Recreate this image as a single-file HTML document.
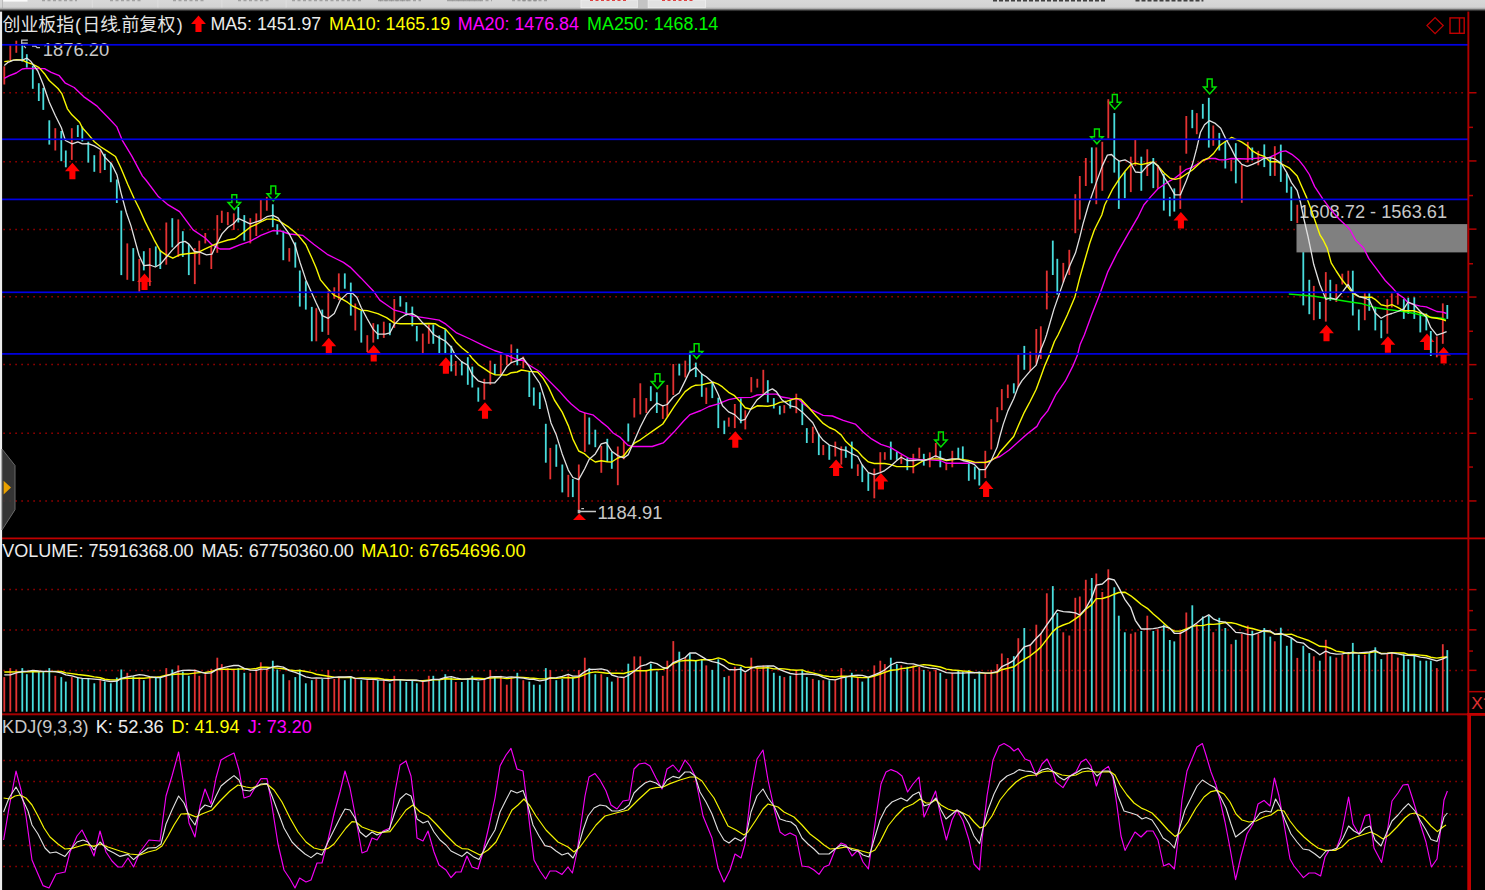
<!DOCTYPE html>
<html><head><meta charset="utf-8"><title>chart</title>
<style>html,body{margin:0;padding:0;background:#000;width:1485px;height:890px;overflow:hidden}</style>
</head><body>
<svg width="1485" height="890" viewBox="0 0 1485 890" style="display:block;position:absolute;left:0;top:0" font-family="Liberation Sans, sans-serif">
<defs><linearGradient id="tg" x1="0" y1="0" x2="0" y2="1"><stop offset="0" stop-color="#d8d8d8"/><stop offset="0.6" stop-color="#d3d3d3"/><stop offset="0.72" stop-color="#b8b8b8"/><stop offset="0.82" stop-color="#707070"/><stop offset="0.92" stop-color="#282828"/><stop offset="1" stop-color="#000"/></linearGradient><path id="ua" d="M0 -0.2 L7.4 8.3 L3.05 8.3 L3.05 16.3 L-3.05 16.3 L-3.05 8.3 L-7.4 8.3 Z"/><path id="da" d="M-2.4 0.6 L2.4 0.6 L2.4 8.4 L6.2 8.4 L0 15.4 L-6.2 8.4 L-2.4 8.4 Z"/></defs>
<rect width="1485" height="890" fill="#000"/>
<line x1="3.35" y1="92.8" x2="1464" y2="92.8" stroke="#a20000" stroke-width="1.5" stroke-dasharray="1.5 4.5"/>
<line x1="3.35" y1="161.8" x2="1464" y2="161.8" stroke="#a20000" stroke-width="1.5" stroke-dasharray="1.5 4.5"/>
<line x1="3.35" y1="229.4" x2="1464" y2="229.4" stroke="#a20000" stroke-width="1.5" stroke-dasharray="1.5 4.5"/>
<line x1="3.35" y1="296.8" x2="1464" y2="296.8" stroke="#a20000" stroke-width="1.5" stroke-dasharray="1.5 4.5"/>
<line x1="3.35" y1="364.4" x2="1464" y2="364.4" stroke="#a20000" stroke-width="1.5" stroke-dasharray="1.5 4.5"/>
<line x1="3.35" y1="433.3" x2="1464" y2="433.3" stroke="#a20000" stroke-width="1.5" stroke-dasharray="1.5 4.5"/>
<line x1="3.35" y1="500.9" x2="1464" y2="500.9" stroke="#a20000" stroke-width="1.5" stroke-dasharray="1.5 4.5"/>
<line x1="3.35" y1="589.4" x2="1464" y2="589.4" stroke="#a20000" stroke-width="1.5" stroke-dasharray="1.5 4.5"/>
<line x1="3.35" y1="629.9" x2="1464" y2="629.9" stroke="#a20000" stroke-width="1.5" stroke-dasharray="1.5 4.5"/>
<line x1="3.35" y1="670.4" x2="1464" y2="670.4" stroke="#a20000" stroke-width="1.5" stroke-dasharray="1.5 4.5"/>
<line x1="3.35" y1="760.5" x2="1464" y2="760.5" stroke="#a20000" stroke-width="1.5" stroke-dasharray="1.5 4.5"/>
<line x1="3.35" y1="781.5" x2="1464" y2="781.5" stroke="#a20000" stroke-width="1.5" stroke-dasharray="1.5 4.5"/>
<line x1="3.35" y1="814.5" x2="1464" y2="814.5" stroke="#a20000" stroke-width="1.5" stroke-dasharray="1.5 4.5"/>
<line x1="3.35" y1="845.5" x2="1464" y2="845.5" stroke="#a20000" stroke-width="1.5" stroke-dasharray="1.5 4.5"/>
<line x1="3.35" y1="866.5" x2="1464" y2="866.5" stroke="#a20000" stroke-width="1.5" stroke-dasharray="1.5 4.5"/>
<use href="#ua" x="72.4" y="162.9" fill="#ff0000"/>
<use href="#ua" x="144.5" y="273.7" fill="#ff0000"/>
<use href="#ua" x="328.8" y="337.9" fill="#ff0000"/>
<use href="#ua" x="373.7" y="345.3" fill="#ff0000"/>
<use href="#ua" x="445.9" y="357.5" fill="#ff0000"/>
<use href="#ua" x="485" y="402.4" fill="#ff0000"/>
<use href="#ua" x="735.3" y="431.4" fill="#ff0000"/>
<use href="#ua" x="836.1" y="459.8" fill="#ff0000"/>
<use href="#ua" x="880.9" y="473.3" fill="#ff0000"/>
<use href="#ua" x="986.1" y="480.8" fill="#ff0000"/>
<use href="#ua" x="1180.9" y="212.3" fill="#ff0000"/>
<use href="#ua" x="1326.5" y="325" fill="#ff0000"/>
<use href="#ua" x="1387.9" y="336.4" fill="#ff0000"/>
<use href="#ua" x="1427" y="333.7" fill="#ff0000"/>
<use href="#ua" x="1443.6" y="347.2" fill="#ff0000"/>
<use href="#ua" x="198.5" y="15.6" fill="#ff0000"/>
<use href="#da" x="234.3" y="194.2" fill="none" stroke="#00e000" stroke-width="1.5"/>
<use href="#da" x="273.3" y="185.4" fill="none" stroke="#00e000" stroke-width="1.5"/>
<use href="#da" x="657.5" y="373.2" fill="none" stroke="#00e000" stroke-width="1.5"/>
<use href="#da" x="696.6" y="343.2" fill="none" stroke="#00e000" stroke-width="1.5"/>
<use href="#da" x="940.9" y="431.5" fill="none" stroke="#00e000" stroke-width="1.5"/>
<use href="#da" x="1096.9" y="128.4" fill="none" stroke="#00e000" stroke-width="1.5"/>
<use href="#da" x="1114.8" y="93.8" fill="none" stroke="#00e000" stroke-width="1.5"/>
<use href="#da" x="1209.7" y="78.5" fill="none" stroke="#00e000" stroke-width="1.5"/>
<path d="M579.3 513.4 L586 519.9 L573 519.9 Z" fill="#ff0000"/>
<rect x="3.40" y="66.3" width="1.8" height="18.2" fill="#e43232"/>
<rect x="9.40" y="45.4" width="1.8" height="14.8" fill="#e43232"/>
<rect x="15.40" y="40.7" width="1.8" height="12.1" fill="#e43232"/>
<rect x="21.40" y="44.0" width="1.8" height="17.6" fill="#48dcdc"/>
<rect x="25.90" y="54.2" width="1.8" height="13.4" fill="#48dcdc"/>
<rect x="31.90" y="65.6" width="1.8" height="23.2" fill="#48dcdc"/>
<rect x="37.90" y="83.2" width="1.8" height="17.8" fill="#48dcdc"/>
<rect x="42.40" y="87.9" width="1.8" height="22.0" fill="#48dcdc"/>
<rect x="48.40" y="120.3" width="1.8" height="24.3" fill="#48dcdc"/>
<rect x="54.40" y="128.2" width="1.8" height="22.3" fill="#e43232"/>
<rect x="60.40" y="131.0" width="1.8" height="30.2" fill="#48dcdc"/>
<rect x="64.90" y="150.5" width="1.8" height="16.8" fill="#48dcdc"/>
<rect x="70.90" y="128.2" width="1.8" height="31.7" fill="#e43232"/>
<rect x="76.90" y="125.1" width="1.8" height="11.9" fill="#48dcdc"/>
<rect x="81.40" y="126.6" width="1.8" height="14.8" fill="#48dcdc"/>
<rect x="87.40" y="141.7" width="1.8" height="20.9" fill="#48dcdc"/>
<rect x="93.40" y="155.2" width="1.8" height="16.6" fill="#48dcdc"/>
<rect x="99.40" y="150.5" width="1.8" height="22.6" fill="#e43232"/>
<rect x="103.90" y="153.8" width="1.8" height="16.2" fill="#48dcdc"/>
<rect x="109.90" y="162.6" width="1.8" height="19.6" fill="#48dcdc"/>
<rect x="115.90" y="179.5" width="1.8" height="23.5" fill="#48dcdc"/>
<rect x="120.40" y="210.6" width="1.8" height="64.5" fill="#48dcdc"/>
<rect x="126.40" y="243.4" width="1.8" height="36.4" fill="#e43232"/>
<rect x="132.40" y="248.1" width="1.8" height="33.0" fill="#48dcdc"/>
<rect x="138.40" y="258.9" width="1.8" height="32.8" fill="#e43232"/>
<rect x="142.90" y="251.2" width="1.8" height="19.2" fill="#48dcdc"/>
<rect x="148.90" y="248.1" width="1.8" height="37.8" fill="#e43232"/>
<rect x="154.90" y="246.4" width="1.8" height="19.9" fill="#48dcdc"/>
<rect x="159.40" y="250.1" width="1.8" height="18.9" fill="#48dcdc"/>
<rect x="165.40" y="222.5" width="1.8" height="42.2" fill="#e43232"/>
<rect x="171.40" y="218.2" width="1.8" height="29.2" fill="#48dcdc"/>
<rect x="177.40" y="219.4" width="1.8" height="37.5" fill="#e43232"/>
<rect x="181.90" y="231.2" width="1.8" height="25.7" fill="#48dcdc"/>
<rect x="187.90" y="244.1" width="1.8" height="31.0" fill="#48dcdc"/>
<rect x="193.90" y="248.1" width="1.8" height="36.0" fill="#e43232"/>
<rect x="198.40" y="240.7" width="1.8" height="24.0" fill="#e43232"/>
<rect x="204.40" y="233.0" width="1.8" height="10.4" fill="#e43232"/>
<rect x="210.40" y="246.8" width="1.8" height="22.2" fill="#e43232"/>
<rect x="216.40" y="215.1" width="1.8" height="37.7" fill="#e43232"/>
<rect x="220.90" y="210.7" width="1.8" height="12.2" fill="#e43232"/>
<rect x="226.90" y="212.1" width="1.8" height="13.1" fill="#e43232"/>
<rect x="232.90" y="213.4" width="1.8" height="16.5" fill="#e43232"/>
<rect x="237.40" y="207.0" width="1.8" height="15.5" fill="#48dcdc"/>
<rect x="243.40" y="215.1" width="1.8" height="25.6" fill="#48dcdc"/>
<rect x="249.40" y="218.2" width="1.8" height="25.2" fill="#e43232"/>
<rect x="255.40" y="213.4" width="1.8" height="22.6" fill="#e43232"/>
<rect x="259.90" y="200.0" width="1.8" height="21.1" fill="#e43232"/>
<rect x="265.90" y="196.9" width="1.8" height="13.8" fill="#e43232"/>
<rect x="271.90" y="204.3" width="1.8" height="22.9" fill="#48dcdc"/>
<rect x="276.40" y="224.2" width="1.8" height="10.4" fill="#48dcdc"/>
<rect x="282.40" y="230.6" width="1.8" height="29.6" fill="#48dcdc"/>
<rect x="288.40" y="248.1" width="1.8" height="13.5" fill="#e43232"/>
<rect x="294.40" y="242.4" width="1.8" height="25.2" fill="#48dcdc"/>
<rect x="298.90" y="270.5" width="1.8" height="36.1" fill="#48dcdc"/>
<rect x="304.90" y="281.2" width="1.8" height="28.4" fill="#48dcdc"/>
<rect x="310.90" y="306.9" width="1.8" height="34.4" fill="#48dcdc"/>
<rect x="315.40" y="308.2" width="1.8" height="33.1" fill="#e43232"/>
<rect x="321.40" y="309.6" width="1.8" height="22.2" fill="#48dcdc"/>
<rect x="327.40" y="290.7" width="1.8" height="44.2" fill="#e43232"/>
<rect x="333.40" y="287.3" width="1.8" height="11.5" fill="#e43232"/>
<rect x="337.90" y="273.4" width="1.8" height="26.7" fill="#e43232"/>
<rect x="343.90" y="273.4" width="1.8" height="15.3" fill="#48dcdc"/>
<rect x="349.90" y="282.6" width="1.8" height="33.0" fill="#48dcdc"/>
<rect x="354.40" y="303.5" width="1.8" height="27.0" fill="#e43232"/>
<rect x="360.40" y="310.9" width="1.8" height="31.7" fill="#48dcdc"/>
<rect x="366.40" y="335.2" width="1.8" height="16.8" fill="#e43232"/>
<rect x="372.40" y="323.1" width="1.8" height="19.5" fill="#e43232"/>
<rect x="376.90" y="324.4" width="1.8" height="14.8" fill="#48dcdc"/>
<rect x="382.90" y="321.7" width="1.8" height="16.2" fill="#e43232"/>
<rect x="388.90" y="323.1" width="1.8" height="12.1" fill="#48dcdc"/>
<rect x="393.40" y="299.0" width="1.8" height="28.8" fill="#e43232"/>
<rect x="399.40" y="296.1" width="1.8" height="10.5" fill="#48dcdc"/>
<rect x="405.40" y="302.2" width="1.8" height="13.4" fill="#48dcdc"/>
<rect x="411.40" y="306.6" width="1.8" height="19.6" fill="#48dcdc"/>
<rect x="415.90" y="326.0" width="1.8" height="15.3" fill="#48dcdc"/>
<rect x="421.90" y="333.6" width="1.8" height="19.8" fill="#e43232"/>
<rect x="427.90" y="324.6" width="1.8" height="19.2" fill="#e43232"/>
<rect x="432.40" y="324.6" width="1.8" height="19.2" fill="#48dcdc"/>
<rect x="438.40" y="335.4" width="1.8" height="18.0" fill="#48dcdc"/>
<rect x="444.40" y="329.3" width="1.8" height="24.1" fill="#48dcdc"/>
<rect x="450.40" y="345.8" width="1.8" height="25.6" fill="#48dcdc"/>
<rect x="454.90" y="361.0" width="1.8" height="14.8" fill="#e43232"/>
<rect x="460.90" y="361.2" width="1.8" height="14.2" fill="#48dcdc"/>
<rect x="466.90" y="357.2" width="1.8" height="27.6" fill="#48dcdc"/>
<rect x="471.40" y="366.6" width="1.8" height="20.9" fill="#48dcdc"/>
<rect x="477.40" y="387.5" width="1.8" height="14.2" fill="#48dcdc"/>
<rect x="483.40" y="378.8" width="1.8" height="20.9" fill="#e43232"/>
<rect x="489.40" y="360.6" width="1.8" height="24.2" fill="#e43232"/>
<rect x="493.90" y="363.9" width="1.8" height="10.8" fill="#48dcdc"/>
<rect x="499.90" y="353.2" width="1.8" height="21.5" fill="#e43232"/>
<rect x="505.90" y="355.2" width="1.8" height="10.1" fill="#e43232"/>
<rect x="510.40" y="344.4" width="1.8" height="18.9" fill="#e43232"/>
<rect x="516.40" y="348.8" width="1.8" height="16.5" fill="#48dcdc"/>
<rect x="522.40" y="356.5" width="1.8" height="11.8" fill="#e43232"/>
<rect x="528.40" y="371.4" width="1.8" height="25.6" fill="#48dcdc"/>
<rect x="532.90" y="387.5" width="1.8" height="18.1" fill="#48dcdc"/>
<rect x="538.90" y="392.3" width="1.8" height="16.7" fill="#48dcdc"/>
<rect x="544.90" y="423.8" width="1.8" height="38.9" fill="#48dcdc"/>
<rect x="549.40" y="447.9" width="1.8" height="31.4" fill="#e43232"/>
<rect x="555.40" y="444.5" width="1.8" height="22.3" fill="#48dcdc"/>
<rect x="561.40" y="464.5" width="1.8" height="27.9" fill="#48dcdc"/>
<rect x="567.40" y="474.8" width="1.8" height="22.3" fill="#e43232"/>
<rect x="571.90" y="478.9" width="1.8" height="18.2" fill="#48dcdc"/>
<rect x="577.90" y="464.5" width="1.8" height="45.4" fill="#e43232"/>
<rect x="583.90" y="412.7" width="1.8" height="39.2" fill="#e43232"/>
<rect x="588.40" y="417.5" width="1.8" height="27.0" fill="#48dcdc"/>
<rect x="594.40" y="429.7" width="1.8" height="17.5" fill="#48dcdc"/>
<rect x="600.40" y="445.9" width="1.8" height="26.9" fill="#e43232"/>
<rect x="606.40" y="438.8" width="1.8" height="23.2" fill="#48dcdc"/>
<rect x="610.90" y="451.9" width="1.8" height="16.9" fill="#48dcdc"/>
<rect x="616.90" y="446.5" width="1.8" height="38.7" fill="#e43232"/>
<rect x="622.90" y="441.1" width="1.8" height="18.2" fill="#e43232"/>
<rect x="627.40" y="423.5" width="1.8" height="18.0" fill="#48dcdc"/>
<rect x="633.40" y="398.1" width="1.8" height="19.4" fill="#e43232"/>
<rect x="639.40" y="383.3" width="1.8" height="31.1" fill="#e43232"/>
<rect x="645.40" y="398.1" width="1.8" height="14.9" fill="#e43232"/>
<rect x="649.90" y="386.2" width="1.8" height="14.9" fill="#48dcdc"/>
<rect x="655.90" y="392.3" width="1.8" height="20.7" fill="#48dcdc"/>
<rect x="661.90" y="406.0" width="1.8" height="12.9" fill="#e43232"/>
<rect x="666.40" y="384.9" width="1.8" height="31.9" fill="#e43232"/>
<rect x="672.40" y="364.0" width="1.8" height="31.0" fill="#e43232"/>
<rect x="678.40" y="363.7" width="1.8" height="11.8" fill="#48dcdc"/>
<rect x="684.40" y="360.6" width="1.8" height="16.9" fill="#e43232"/>
<rect x="688.90" y="352.5" width="1.8" height="18.9" fill="#48dcdc"/>
<rect x="694.90" y="362.6" width="1.8" height="14.5" fill="#48dcdc"/>
<rect x="700.90" y="374.1" width="1.8" height="22.7" fill="#48dcdc"/>
<rect x="705.40" y="387.6" width="1.8" height="16.4" fill="#e43232"/>
<rect x="711.40" y="382.2" width="1.8" height="15.9" fill="#48dcdc"/>
<rect x="717.40" y="397.7" width="1.8" height="30.4" fill="#48dcdc"/>
<rect x="723.40" y="420.6" width="1.8" height="13.5" fill="#48dcdc"/>
<rect x="727.90" y="417.5" width="1.8" height="9.2" fill="#e43232"/>
<rect x="733.90" y="404.0" width="1.8" height="24.1" fill="#e43232"/>
<rect x="739.90" y="398.4" width="1.8" height="24.9" fill="#48dcdc"/>
<rect x="744.40" y="410.3" width="1.8" height="19.1" fill="#e43232"/>
<rect x="750.40" y="377.1" width="1.8" height="15.2" fill="#e43232"/>
<rect x="756.40" y="378.8" width="1.8" height="8.8" fill="#e43232"/>
<rect x="762.40" y="369.8" width="1.8" height="23.9" fill="#e43232"/>
<rect x="766.90" y="380.2" width="1.8" height="22.2" fill="#48dcdc"/>
<rect x="772.90" y="398.1" width="1.8" height="10.4" fill="#48dcdc"/>
<rect x="778.90" y="405.8" width="1.8" height="8.8" fill="#48dcdc"/>
<rect x="783.40" y="405.1" width="1.8" height="8.1" fill="#e43232"/>
<rect x="789.40" y="399.7" width="1.8" height="8.8" fill="#48dcdc"/>
<rect x="795.40" y="393.7" width="1.8" height="19.5" fill="#e43232"/>
<rect x="801.40" y="400.5" width="1.8" height="24.6" fill="#48dcdc"/>
<rect x="805.90" y="428.1" width="1.8" height="14.9" fill="#48dcdc"/>
<rect x="811.90" y="426.7" width="1.8" height="16.3" fill="#e43232"/>
<rect x="817.90" y="433.8" width="1.8" height="21.3" fill="#48dcdc"/>
<rect x="822.40" y="445.0" width="1.8" height="10.1" fill="#e43232"/>
<rect x="828.40" y="445.0" width="1.8" height="14.8" fill="#48dcdc"/>
<rect x="834.40" y="441.6" width="1.8" height="14.9" fill="#e43232"/>
<rect x="840.40" y="446.4" width="1.8" height="18.2" fill="#e43232"/>
<rect x="844.90" y="446.4" width="1.8" height="11.4" fill="#48dcdc"/>
<rect x="850.90" y="441.6" width="1.8" height="27.0" fill="#48dcdc"/>
<rect x="856.90" y="464.3" width="1.8" height="11.7" fill="#e43232"/>
<rect x="861.40" y="464.6" width="1.8" height="17.5" fill="#48dcdc"/>
<rect x="867.40" y="472.7" width="1.8" height="18.2" fill="#48dcdc"/>
<rect x="873.40" y="468.6" width="1.8" height="29.7" fill="#e43232"/>
<rect x="879.40" y="452.2" width="1.8" height="20.5" fill="#e43232"/>
<rect x="883.90" y="452.2" width="1.8" height="7.6" fill="#e43232"/>
<rect x="889.90" y="441.6" width="1.8" height="18.2" fill="#48dcdc"/>
<rect x="895.90" y="451.8" width="1.8" height="8.0" fill="#48dcdc"/>
<rect x="900.40" y="455.1" width="1.8" height="8.8" fill="#e43232"/>
<rect x="906.40" y="457.8" width="1.8" height="12.4" fill="#48dcdc"/>
<rect x="912.40" y="453.8" width="1.8" height="19.5" fill="#e43232"/>
<rect x="918.40" y="447.7" width="1.8" height="10.8" fill="#e43232"/>
<rect x="922.90" y="453.8" width="1.8" height="11.8" fill="#48dcdc"/>
<rect x="928.90" y="452.4" width="1.8" height="14.9" fill="#e43232"/>
<rect x="934.90" y="443.0" width="1.8" height="14.8" fill="#e43232"/>
<rect x="939.40" y="450.8" width="1.8" height="16.5" fill="#48dcdc"/>
<rect x="945.40" y="462.5" width="1.8" height="7.7" fill="#e43232"/>
<rect x="951.40" y="450.8" width="1.8" height="16.5" fill="#e43232"/>
<rect x="957.40" y="447.7" width="1.8" height="11.5" fill="#48dcdc"/>
<rect x="961.90" y="446.4" width="1.8" height="13.4" fill="#48dcdc"/>
<rect x="967.90" y="462.5" width="1.8" height="18.3" fill="#48dcdc"/>
<rect x="973.90" y="466.6" width="1.8" height="12.8" fill="#48dcdc"/>
<rect x="978.40" y="468.6" width="1.8" height="16.9" fill="#48dcdc"/>
<rect x="984.40" y="450.8" width="1.8" height="27.3" fill="#e43232"/>
<rect x="990.40" y="419.2" width="1.8" height="30.3" fill="#e43232"/>
<rect x="996.40" y="407.2" width="1.8" height="15.0" fill="#e43232"/>
<rect x="1000.90" y="389.1" width="1.8" height="21.1" fill="#e43232"/>
<rect x="1006.90" y="384.6" width="1.8" height="13.5" fill="#e43232"/>
<rect x="1012.90" y="383.3" width="1.8" height="10.1" fill="#48dcdc"/>
<rect x="1017.40" y="354.3" width="1.8" height="33.0" fill="#e43232"/>
<rect x="1023.40" y="345.9" width="1.8" height="23.9" fill="#48dcdc"/>
<rect x="1029.40" y="351.6" width="1.8" height="19.5" fill="#e43232"/>
<rect x="1035.40" y="329.0" width="1.8" height="34.7" fill="#e43232"/>
<rect x="1039.90" y="326.3" width="1.8" height="32.7" fill="#e43232"/>
<rect x="1045.90" y="270.6" width="1.8" height="38.8" fill="#e43232"/>
<rect x="1051.90" y="240.6" width="1.8" height="34.4" fill="#48dcdc"/>
<rect x="1056.40" y="258.8" width="1.8" height="35.8" fill="#48dcdc"/>
<rect x="1062.40" y="262.9" width="1.8" height="19.5" fill="#e43232"/>
<rect x="1068.40" y="249.8" width="1.8" height="25.2" fill="#e43232"/>
<rect x="1074.40" y="194.2" width="1.8" height="39.0" fill="#e43232"/>
<rect x="1078.90" y="176.0" width="1.8" height="43.5" fill="#e43232"/>
<rect x="1084.90" y="158.0" width="1.8" height="28.0" fill="#e43232"/>
<rect x="1090.90" y="147.4" width="1.8" height="35.9" fill="#48dcdc"/>
<rect x="1095.40" y="147.4" width="1.8" height="56.8" fill="#e43232"/>
<rect x="1101.40" y="141.8" width="1.8" height="49.0" fill="#e43232"/>
<rect x="1107.40" y="99.2" width="1.8" height="39.3" fill="#e43232"/>
<rect x="1113.40" y="113.1" width="1.8" height="59.5" fill="#48dcdc"/>
<rect x="1117.90" y="161.0" width="1.8" height="47.9" fill="#48dcdc"/>
<rect x="1123.90" y="171.5" width="1.8" height="26.7" fill="#48dcdc"/>
<rect x="1129.90" y="156.7" width="1.8" height="35.4" fill="#e43232"/>
<rect x="1134.40" y="139.8" width="1.8" height="26.0" fill="#e43232"/>
<rect x="1140.40" y="156.7" width="1.8" height="34.1" fill="#48dcdc"/>
<rect x="1146.40" y="149.3" width="1.8" height="26.7" fill="#e43232"/>
<rect x="1152.40" y="158.0" width="1.8" height="30.1" fill="#48dcdc"/>
<rect x="1156.90" y="165.1" width="1.8" height="23.6" fill="#e43232"/>
<rect x="1162.90" y="174.0" width="1.8" height="36.6" fill="#48dcdc"/>
<rect x="1168.90" y="197.2" width="1.8" height="19.1" fill="#48dcdc"/>
<rect x="1173.40" y="188.4" width="1.8" height="23.2" fill="#48dcdc"/>
<rect x="1179.40" y="165.6" width="1.8" height="43.3" fill="#e43232"/>
<rect x="1185.40" y="116.0" width="1.8" height="37.7" fill="#e43232"/>
<rect x="1191.40" y="109.9" width="1.8" height="18.3" fill="#48dcdc"/>
<rect x="1195.90" y="113.1" width="1.8" height="21.1" fill="#e43232"/>
<rect x="1201.90" y="103.9" width="1.8" height="14.8" fill="#48dcdc"/>
<rect x="1207.90" y="97.8" width="1.8" height="49.8" fill="#48dcdc"/>
<rect x="1212.40" y="125.5" width="1.8" height="20.3" fill="#e43232"/>
<rect x="1218.40" y="132.9" width="1.8" height="17.6" fill="#48dcdc"/>
<rect x="1224.40" y="141.8" width="1.8" height="26.7" fill="#48dcdc"/>
<rect x="1230.40" y="159.8" width="1.8" height="11.4" fill="#e43232"/>
<rect x="1234.90" y="143.2" width="1.8" height="40.1" fill="#48dcdc"/>
<rect x="1240.90" y="165.1" width="1.8" height="37.7" fill="#e43232"/>
<rect x="1246.90" y="141.9" width="1.8" height="20.5" fill="#e43232"/>
<rect x="1251.40" y="147.5" width="1.8" height="12.8" fill="#48dcdc"/>
<rect x="1257.40" y="150.9" width="1.8" height="14.4" fill="#e43232"/>
<rect x="1263.40" y="144.4" width="1.8" height="22.7" fill="#48dcdc"/>
<rect x="1269.40" y="158.3" width="1.8" height="17.6" fill="#48dcdc"/>
<rect x="1273.90" y="146.2" width="1.8" height="29.7" fill="#e43232"/>
<rect x="1279.90" y="144.6" width="1.8" height="37.3" fill="#48dcdc"/>
<rect x="1285.90" y="173.2" width="1.8" height="19.5" fill="#48dcdc"/>
<rect x="1290.40" y="186.6" width="1.8" height="34.4" fill="#48dcdc"/>
<rect x="1296.40" y="204.8" width="1.8" height="18.3" fill="#e43232"/>
<rect x="1302.40" y="240.0" width="1.8" height="65.4" fill="#48dcdc"/>
<rect x="1308.40" y="279.8" width="1.8" height="34.4" fill="#48dcdc"/>
<rect x="1312.90" y="285.9" width="1.8" height="34.3" fill="#e43232"/>
<rect x="1318.90" y="302.0" width="1.8" height="16.9" fill="#48dcdc"/>
<rect x="1324.90" y="272.1" width="1.8" height="49.5" fill="#e43232"/>
<rect x="1329.40" y="279.8" width="1.8" height="20.9" fill="#48dcdc"/>
<rect x="1335.40" y="284.2" width="1.8" height="17.8" fill="#e43232"/>
<rect x="1341.40" y="273.7" width="1.8" height="10.8" fill="#e43232"/>
<rect x="1347.40" y="270.7" width="1.8" height="15.8" fill="#e43232"/>
<rect x="1351.90" y="270.7" width="1.8" height="44.8" fill="#48dcdc"/>
<rect x="1357.90" y="309.5" width="1.8" height="20.9" fill="#48dcdc"/>
<rect x="1363.90" y="293.3" width="1.8" height="26.9" fill="#e43232"/>
<rect x="1368.40" y="293.3" width="1.8" height="17.5" fill="#48dcdc"/>
<rect x="1374.40" y="306.8" width="1.8" height="23.6" fill="#48dcdc"/>
<rect x="1380.40" y="320.2" width="1.8" height="18.0" fill="#48dcdc"/>
<rect x="1386.40" y="299.1" width="1.8" height="34.6" fill="#e43232"/>
<rect x="1390.90" y="293.3" width="1.8" height="14.1" fill="#e43232"/>
<rect x="1396.90" y="293.3" width="1.8" height="11.4" fill="#e43232"/>
<rect x="1402.90" y="299.1" width="1.8" height="19.8" fill="#48dcdc"/>
<rect x="1407.40" y="297.7" width="1.8" height="16.2" fill="#48dcdc"/>
<rect x="1413.40" y="297.3" width="1.8" height="21.6" fill="#48dcdc"/>
<rect x="1419.40" y="312.8" width="1.8" height="19.6" fill="#48dcdc"/>
<rect x="1425.40" y="313.5" width="1.8" height="16.9" fill="#48dcdc"/>
<rect x="1429.90" y="331.0" width="1.8" height="25.0" fill="#48dcdc"/>
<rect x="1435.90" y="336.4" width="1.8" height="20.9" fill="#e43232"/>
<rect x="1441.90" y="303.4" width="1.8" height="40.4" fill="#e43232"/>
<rect x="1446.40" y="305.0" width="1.8" height="13.9" fill="#48dcdc"/>
<rect x="1296.5" y="224.1" width="171" height="28.3" fill="#808080"/>
<rect x="3.40" y="677.1" width="1.8" height="34.6" fill="#e43232"/>
<rect x="9.40" y="668.1" width="1.8" height="43.6" fill="#e43232"/>
<rect x="15.40" y="669.5" width="1.8" height="42.2" fill="#e43232"/>
<rect x="21.40" y="668.1" width="1.8" height="43.6" fill="#48dcdc"/>
<rect x="25.90" y="674.2" width="1.8" height="37.5" fill="#48dcdc"/>
<rect x="31.90" y="671.5" width="1.8" height="40.2" fill="#48dcdc"/>
<rect x="37.90" y="671.5" width="1.8" height="40.2" fill="#48dcdc"/>
<rect x="42.40" y="671.5" width="1.8" height="40.2" fill="#48dcdc"/>
<rect x="48.40" y="668.1" width="1.8" height="43.6" fill="#48dcdc"/>
<rect x="54.40" y="675.8" width="1.8" height="35.9" fill="#e43232"/>
<rect x="60.40" y="677.1" width="1.8" height="34.6" fill="#48dcdc"/>
<rect x="64.90" y="681.6" width="1.8" height="30.1" fill="#48dcdc"/>
<rect x="70.90" y="677.1" width="1.8" height="34.6" fill="#e43232"/>
<rect x="76.90" y="677.1" width="1.8" height="34.6" fill="#48dcdc"/>
<rect x="81.40" y="678.9" width="1.8" height="32.8" fill="#48dcdc"/>
<rect x="87.40" y="678.9" width="1.8" height="32.8" fill="#48dcdc"/>
<rect x="93.40" y="683.3" width="1.8" height="28.4" fill="#48dcdc"/>
<rect x="99.40" y="680.2" width="1.8" height="31.5" fill="#e43232"/>
<rect x="103.90" y="681.6" width="1.8" height="30.1" fill="#48dcdc"/>
<rect x="109.90" y="683.3" width="1.8" height="28.4" fill="#48dcdc"/>
<rect x="115.90" y="677.5" width="1.8" height="34.2" fill="#48dcdc"/>
<rect x="120.40" y="669.5" width="1.8" height="42.2" fill="#48dcdc"/>
<rect x="126.40" y="672.8" width="1.8" height="38.9" fill="#e43232"/>
<rect x="132.40" y="676.2" width="1.8" height="35.5" fill="#48dcdc"/>
<rect x="138.40" y="677.5" width="1.8" height="34.2" fill="#e43232"/>
<rect x="142.90" y="680.2" width="1.8" height="31.5" fill="#48dcdc"/>
<rect x="148.90" y="676.9" width="1.8" height="34.8" fill="#e43232"/>
<rect x="154.90" y="676.9" width="1.8" height="34.8" fill="#48dcdc"/>
<rect x="159.40" y="676.9" width="1.8" height="34.8" fill="#48dcdc"/>
<rect x="165.40" y="668.1" width="1.8" height="43.6" fill="#e43232"/>
<rect x="171.40" y="669.5" width="1.8" height="42.2" fill="#48dcdc"/>
<rect x="177.40" y="665.4" width="1.8" height="46.3" fill="#e43232"/>
<rect x="181.90" y="671.5" width="1.8" height="40.2" fill="#48dcdc"/>
<rect x="187.90" y="675.8" width="1.8" height="35.9" fill="#48dcdc"/>
<rect x="193.90" y="669.5" width="1.8" height="42.2" fill="#e43232"/>
<rect x="198.40" y="675.8" width="1.8" height="35.9" fill="#e43232"/>
<rect x="204.40" y="674.2" width="1.8" height="37.5" fill="#e43232"/>
<rect x="210.40" y="668.8" width="1.8" height="42.9" fill="#e43232"/>
<rect x="216.40" y="657.7" width="1.8" height="54.0" fill="#e43232"/>
<rect x="220.90" y="664.1" width="1.8" height="47.6" fill="#e43232"/>
<rect x="226.90" y="668.1" width="1.8" height="43.6" fill="#e43232"/>
<rect x="232.90" y="668.8" width="1.8" height="42.9" fill="#e43232"/>
<rect x="237.40" y="668.1" width="1.8" height="43.6" fill="#48dcdc"/>
<rect x="243.40" y="672.8" width="1.8" height="38.9" fill="#48dcdc"/>
<rect x="249.40" y="672.8" width="1.8" height="38.9" fill="#e43232"/>
<rect x="255.40" y="669.5" width="1.8" height="42.2" fill="#e43232"/>
<rect x="259.90" y="662.3" width="1.8" height="49.4" fill="#e43232"/>
<rect x="265.90" y="668.8" width="1.8" height="42.9" fill="#e43232"/>
<rect x="271.90" y="660.7" width="1.8" height="51.0" fill="#48dcdc"/>
<rect x="276.40" y="669.5" width="1.8" height="42.2" fill="#48dcdc"/>
<rect x="282.40" y="674.2" width="1.8" height="37.5" fill="#48dcdc"/>
<rect x="288.40" y="680.2" width="1.8" height="31.5" fill="#e43232"/>
<rect x="294.40" y="677.1" width="1.8" height="34.6" fill="#48dcdc"/>
<rect x="298.90" y="669.5" width="1.8" height="42.2" fill="#48dcdc"/>
<rect x="304.90" y="683.3" width="1.8" height="28.4" fill="#48dcdc"/>
<rect x="310.90" y="680.2" width="1.8" height="31.5" fill="#48dcdc"/>
<rect x="315.40" y="678.9" width="1.8" height="32.8" fill="#e43232"/>
<rect x="321.40" y="678.9" width="1.8" height="32.8" fill="#48dcdc"/>
<rect x="327.40" y="670.1" width="1.8" height="41.6" fill="#e43232"/>
<rect x="333.40" y="678.9" width="1.8" height="32.8" fill="#e43232"/>
<rect x="337.90" y="677.1" width="1.8" height="34.6" fill="#e43232"/>
<rect x="343.90" y="680.2" width="1.8" height="31.5" fill="#48dcdc"/>
<rect x="349.90" y="677.1" width="1.8" height="34.6" fill="#48dcdc"/>
<rect x="354.40" y="678.9" width="1.8" height="32.8" fill="#e43232"/>
<rect x="360.40" y="680.2" width="1.8" height="31.5" fill="#48dcdc"/>
<rect x="366.40" y="680.2" width="1.8" height="31.5" fill="#e43232"/>
<rect x="372.40" y="680.2" width="1.8" height="31.5" fill="#e43232"/>
<rect x="376.90" y="680.2" width="1.8" height="31.5" fill="#48dcdc"/>
<rect x="382.90" y="680.2" width="1.8" height="31.5" fill="#e43232"/>
<rect x="388.90" y="683.3" width="1.8" height="28.4" fill="#48dcdc"/>
<rect x="393.40" y="675.8" width="1.8" height="35.9" fill="#e43232"/>
<rect x="399.40" y="679.6" width="1.8" height="32.1" fill="#48dcdc"/>
<rect x="405.40" y="682.0" width="1.8" height="29.7" fill="#48dcdc"/>
<rect x="411.40" y="680.2" width="1.8" height="31.5" fill="#48dcdc"/>
<rect x="415.90" y="683.3" width="1.8" height="28.4" fill="#48dcdc"/>
<rect x="421.90" y="682.0" width="1.8" height="29.7" fill="#e43232"/>
<rect x="427.90" y="675.8" width="1.8" height="35.9" fill="#e43232"/>
<rect x="432.40" y="675.8" width="1.8" height="35.9" fill="#48dcdc"/>
<rect x="438.40" y="679.6" width="1.8" height="32.1" fill="#48dcdc"/>
<rect x="444.40" y="674.2" width="1.8" height="37.5" fill="#48dcdc"/>
<rect x="450.40" y="677.5" width="1.8" height="34.2" fill="#48dcdc"/>
<rect x="454.90" y="682.0" width="1.8" height="29.7" fill="#e43232"/>
<rect x="460.90" y="682.0" width="1.8" height="29.7" fill="#48dcdc"/>
<rect x="466.90" y="678.2" width="1.8" height="33.5" fill="#48dcdc"/>
<rect x="471.40" y="675.8" width="1.8" height="35.9" fill="#48dcdc"/>
<rect x="477.40" y="681.6" width="1.8" height="30.1" fill="#48dcdc"/>
<rect x="483.40" y="678.9" width="1.8" height="32.8" fill="#e43232"/>
<rect x="489.40" y="670.1" width="1.8" height="41.6" fill="#e43232"/>
<rect x="493.90" y="676.9" width="1.8" height="34.8" fill="#48dcdc"/>
<rect x="499.90" y="675.8" width="1.8" height="35.9" fill="#e43232"/>
<rect x="505.90" y="684.7" width="1.8" height="27.0" fill="#e43232"/>
<rect x="510.40" y="677.1" width="1.8" height="34.6" fill="#e43232"/>
<rect x="516.40" y="672.8" width="1.8" height="38.9" fill="#48dcdc"/>
<rect x="522.40" y="680.2" width="1.8" height="31.5" fill="#e43232"/>
<rect x="528.40" y="681.6" width="1.8" height="30.1" fill="#48dcdc"/>
<rect x="532.90" y="684.7" width="1.8" height="27.0" fill="#48dcdc"/>
<rect x="538.90" y="684.7" width="1.8" height="27.0" fill="#48dcdc"/>
<rect x="544.90" y="668.1" width="1.8" height="43.6" fill="#48dcdc"/>
<rect x="549.40" y="670.1" width="1.8" height="41.6" fill="#e43232"/>
<rect x="555.40" y="680.2" width="1.8" height="31.5" fill="#48dcdc"/>
<rect x="561.40" y="678.9" width="1.8" height="32.8" fill="#48dcdc"/>
<rect x="567.40" y="674.2" width="1.8" height="37.5" fill="#e43232"/>
<rect x="571.90" y="677.1" width="1.8" height="34.6" fill="#48dcdc"/>
<rect x="577.90" y="670.1" width="1.8" height="41.6" fill="#e43232"/>
<rect x="583.90" y="657.7" width="1.8" height="54.0" fill="#e43232"/>
<rect x="588.40" y="668.1" width="1.8" height="43.6" fill="#48dcdc"/>
<rect x="594.40" y="674.2" width="1.8" height="37.5" fill="#48dcdc"/>
<rect x="600.40" y="674.2" width="1.8" height="37.5" fill="#e43232"/>
<rect x="606.40" y="677.1" width="1.8" height="34.6" fill="#48dcdc"/>
<rect x="610.90" y="681.6" width="1.8" height="30.1" fill="#48dcdc"/>
<rect x="616.90" y="677.5" width="1.8" height="34.2" fill="#e43232"/>
<rect x="622.90" y="676.9" width="1.8" height="34.8" fill="#e43232"/>
<rect x="627.40" y="663.7" width="1.8" height="48.0" fill="#48dcdc"/>
<rect x="633.40" y="656.4" width="1.8" height="55.3" fill="#e43232"/>
<rect x="639.40" y="656.4" width="1.8" height="55.3" fill="#e43232"/>
<rect x="645.40" y="670.1" width="1.8" height="41.6" fill="#e43232"/>
<rect x="649.90" y="663.7" width="1.8" height="48.0" fill="#48dcdc"/>
<rect x="655.90" y="671.5" width="1.8" height="40.2" fill="#48dcdc"/>
<rect x="661.90" y="675.8" width="1.8" height="35.9" fill="#e43232"/>
<rect x="666.40" y="660.7" width="1.8" height="51.0" fill="#e43232"/>
<rect x="672.40" y="641.1" width="1.8" height="70.6" fill="#e43232"/>
<rect x="678.40" y="651.7" width="1.8" height="60.0" fill="#48dcdc"/>
<rect x="684.40" y="658.0" width="1.8" height="53.7" fill="#e43232"/>
<rect x="688.90" y="653.3" width="1.8" height="58.4" fill="#48dcdc"/>
<rect x="694.90" y="660.7" width="1.8" height="51.0" fill="#48dcdc"/>
<rect x="700.90" y="659.3" width="1.8" height="52.4" fill="#48dcdc"/>
<rect x="705.40" y="665.4" width="1.8" height="46.3" fill="#e43232"/>
<rect x="711.40" y="669.9" width="1.8" height="41.8" fill="#48dcdc"/>
<rect x="717.40" y="659.3" width="1.8" height="52.4" fill="#48dcdc"/>
<rect x="723.40" y="677.1" width="1.8" height="34.6" fill="#48dcdc"/>
<rect x="727.90" y="675.8" width="1.8" height="35.9" fill="#e43232"/>
<rect x="733.90" y="666.8" width="1.8" height="44.9" fill="#e43232"/>
<rect x="739.90" y="666.8" width="1.8" height="44.9" fill="#48dcdc"/>
<rect x="744.40" y="672.8" width="1.8" height="38.9" fill="#e43232"/>
<rect x="750.40" y="657.7" width="1.8" height="54.0" fill="#e43232"/>
<rect x="756.40" y="668.1" width="1.8" height="43.6" fill="#e43232"/>
<rect x="762.40" y="665.4" width="1.8" height="46.3" fill="#e43232"/>
<rect x="766.90" y="666.1" width="1.8" height="45.6" fill="#48dcdc"/>
<rect x="772.90" y="672.8" width="1.8" height="38.9" fill="#48dcdc"/>
<rect x="778.90" y="675.8" width="1.8" height="35.9" fill="#48dcdc"/>
<rect x="783.40" y="677.1" width="1.8" height="34.6" fill="#e43232"/>
<rect x="789.40" y="675.8" width="1.8" height="35.9" fill="#48dcdc"/>
<rect x="795.40" y="670.1" width="1.8" height="41.6" fill="#e43232"/>
<rect x="801.40" y="670.1" width="1.8" height="41.6" fill="#48dcdc"/>
<rect x="805.90" y="677.1" width="1.8" height="34.6" fill="#48dcdc"/>
<rect x="811.90" y="678.9" width="1.8" height="32.8" fill="#e43232"/>
<rect x="817.90" y="680.2" width="1.8" height="31.5" fill="#48dcdc"/>
<rect x="822.40" y="680.2" width="1.8" height="31.5" fill="#e43232"/>
<rect x="828.40" y="680.2" width="1.8" height="31.5" fill="#48dcdc"/>
<rect x="834.40" y="680.2" width="1.8" height="31.5" fill="#e43232"/>
<rect x="840.40" y="668.1" width="1.8" height="43.6" fill="#e43232"/>
<rect x="844.90" y="677.1" width="1.8" height="34.6" fill="#48dcdc"/>
<rect x="850.90" y="672.8" width="1.8" height="38.9" fill="#48dcdc"/>
<rect x="856.90" y="677.1" width="1.8" height="34.6" fill="#e43232"/>
<rect x="861.40" y="681.6" width="1.8" height="30.1" fill="#48dcdc"/>
<rect x="867.40" y="677.1" width="1.8" height="34.6" fill="#48dcdc"/>
<rect x="873.40" y="665.4" width="1.8" height="46.3" fill="#e43232"/>
<rect x="879.40" y="660.7" width="1.8" height="51.0" fill="#e43232"/>
<rect x="883.90" y="664.1" width="1.8" height="47.6" fill="#e43232"/>
<rect x="889.90" y="657.7" width="1.8" height="54.0" fill="#48dcdc"/>
<rect x="895.90" y="664.1" width="1.8" height="47.6" fill="#48dcdc"/>
<rect x="900.40" y="665.4" width="1.8" height="46.3" fill="#e43232"/>
<rect x="906.40" y="666.8" width="1.8" height="44.9" fill="#48dcdc"/>
<rect x="912.40" y="665.4" width="1.8" height="46.3" fill="#e43232"/>
<rect x="918.40" y="666.8" width="1.8" height="44.9" fill="#e43232"/>
<rect x="922.90" y="669.9" width="1.8" height="41.8" fill="#48dcdc"/>
<rect x="928.90" y="671.5" width="1.8" height="40.2" fill="#e43232"/>
<rect x="934.90" y="669.9" width="1.8" height="41.8" fill="#e43232"/>
<rect x="939.40" y="672.8" width="1.8" height="38.9" fill="#48dcdc"/>
<rect x="945.40" y="678.9" width="1.8" height="32.8" fill="#e43232"/>
<rect x="951.40" y="672.8" width="1.8" height="38.9" fill="#e43232"/>
<rect x="957.40" y="670.1" width="1.8" height="41.6" fill="#48dcdc"/>
<rect x="961.90" y="671.5" width="1.8" height="40.2" fill="#48dcdc"/>
<rect x="967.90" y="670.1" width="1.8" height="41.6" fill="#48dcdc"/>
<rect x="973.90" y="678.9" width="1.8" height="32.8" fill="#48dcdc"/>
<rect x="978.40" y="671.5" width="1.8" height="40.2" fill="#48dcdc"/>
<rect x="984.40" y="674.2" width="1.8" height="37.5" fill="#e43232"/>
<rect x="990.40" y="669.9" width="1.8" height="41.8" fill="#e43232"/>
<rect x="996.40" y="664.1" width="1.8" height="47.6" fill="#e43232"/>
<rect x="1000.90" y="653.5" width="1.8" height="58.2" fill="#e43232"/>
<rect x="1006.90" y="658.0" width="1.8" height="53.7" fill="#e43232"/>
<rect x="1012.90" y="656.2" width="1.8" height="55.5" fill="#48dcdc"/>
<rect x="1017.40" y="638.2" width="1.8" height="73.5" fill="#e43232"/>
<rect x="1023.40" y="628.0" width="1.8" height="83.7" fill="#48dcdc"/>
<rect x="1029.40" y="644.5" width="1.8" height="67.2" fill="#e43232"/>
<rect x="1035.40" y="624.7" width="1.8" height="87.0" fill="#e43232"/>
<rect x="1039.90" y="633.7" width="1.8" height="78.0" fill="#e43232"/>
<rect x="1045.90" y="593.3" width="1.8" height="118.4" fill="#e43232"/>
<rect x="1051.90" y="586.1" width="1.8" height="125.6" fill="#48dcdc"/>
<rect x="1056.40" y="613.0" width="1.8" height="98.7" fill="#48dcdc"/>
<rect x="1062.40" y="632.3" width="1.8" height="79.4" fill="#e43232"/>
<rect x="1068.40" y="635.5" width="1.8" height="76.2" fill="#e43232"/>
<rect x="1074.40" y="597.8" width="1.8" height="113.9" fill="#e43232"/>
<rect x="1078.90" y="596.5" width="1.8" height="115.2" fill="#e43232"/>
<rect x="1084.90" y="579.8" width="1.8" height="131.9" fill="#e43232"/>
<rect x="1090.90" y="578.0" width="1.8" height="133.7" fill="#48dcdc"/>
<rect x="1095.40" y="573.5" width="1.8" height="138.2" fill="#e43232"/>
<rect x="1101.40" y="592.0" width="1.8" height="119.7" fill="#e43232"/>
<rect x="1107.40" y="569.3" width="1.8" height="142.4" fill="#e43232"/>
<rect x="1113.40" y="587.3" width="1.8" height="124.4" fill="#48dcdc"/>
<rect x="1117.90" y="615.7" width="1.8" height="96.0" fill="#48dcdc"/>
<rect x="1123.90" y="632.3" width="1.8" height="79.4" fill="#48dcdc"/>
<rect x="1129.90" y="633.7" width="1.8" height="78.0" fill="#e43232"/>
<rect x="1134.40" y="632.3" width="1.8" height="79.4" fill="#e43232"/>
<rect x="1140.40" y="631.0" width="1.8" height="80.7" fill="#48dcdc"/>
<rect x="1146.40" y="615.7" width="1.8" height="96.0" fill="#e43232"/>
<rect x="1152.40" y="631.0" width="1.8" height="80.7" fill="#48dcdc"/>
<rect x="1156.90" y="629.2" width="1.8" height="82.5" fill="#e43232"/>
<rect x="1162.90" y="624.7" width="1.8" height="87.0" fill="#48dcdc"/>
<rect x="1168.90" y="640.0" width="1.8" height="71.7" fill="#48dcdc"/>
<rect x="1173.40" y="641.4" width="1.8" height="70.3" fill="#48dcdc"/>
<rect x="1179.40" y="631.9" width="1.8" height="79.8" fill="#e43232"/>
<rect x="1185.40" y="612.5" width="1.8" height="99.2" fill="#e43232"/>
<rect x="1191.40" y="605.3" width="1.8" height="106.4" fill="#48dcdc"/>
<rect x="1195.90" y="624.0" width="1.8" height="87.7" fill="#e43232"/>
<rect x="1201.90" y="616.5" width="1.8" height="95.2" fill="#48dcdc"/>
<rect x="1207.90" y="615.9" width="1.8" height="95.8" fill="#48dcdc"/>
<rect x="1212.40" y="632.2" width="1.8" height="79.5" fill="#e43232"/>
<rect x="1218.40" y="617.8" width="1.8" height="93.9" fill="#48dcdc"/>
<rect x="1224.40" y="628.0" width="1.8" height="83.7" fill="#48dcdc"/>
<rect x="1230.40" y="644.2" width="1.8" height="67.5" fill="#e43232"/>
<rect x="1234.90" y="639.8" width="1.8" height="71.9" fill="#48dcdc"/>
<rect x="1240.90" y="634.0" width="1.8" height="77.7" fill="#e43232"/>
<rect x="1246.90" y="625.6" width="1.8" height="86.1" fill="#e43232"/>
<rect x="1251.40" y="630.8" width="1.8" height="80.9" fill="#48dcdc"/>
<rect x="1257.40" y="634.0" width="1.8" height="77.7" fill="#e43232"/>
<rect x="1263.40" y="628.0" width="1.8" height="83.7" fill="#48dcdc"/>
<rect x="1269.40" y="636.6" width="1.8" height="75.1" fill="#48dcdc"/>
<rect x="1273.90" y="641.3" width="1.8" height="70.4" fill="#e43232"/>
<rect x="1279.90" y="627.7" width="1.8" height="84.0" fill="#48dcdc"/>
<rect x="1285.90" y="645.8" width="1.8" height="65.9" fill="#48dcdc"/>
<rect x="1290.40" y="638.2" width="1.8" height="73.5" fill="#48dcdc"/>
<rect x="1296.40" y="657.9" width="1.8" height="53.8" fill="#e43232"/>
<rect x="1302.40" y="645.8" width="1.8" height="65.9" fill="#48dcdc"/>
<rect x="1308.40" y="653.1" width="1.8" height="58.6" fill="#48dcdc"/>
<rect x="1312.90" y="656.3" width="1.8" height="55.4" fill="#e43232"/>
<rect x="1318.90" y="660.7" width="1.8" height="51.0" fill="#48dcdc"/>
<rect x="1324.90" y="639.8" width="1.8" height="71.9" fill="#e43232"/>
<rect x="1329.40" y="656.3" width="1.8" height="55.4" fill="#48dcdc"/>
<rect x="1335.40" y="657.6" width="1.8" height="54.1" fill="#e43232"/>
<rect x="1341.40" y="654.7" width="1.8" height="57.0" fill="#e43232"/>
<rect x="1347.40" y="654.7" width="1.8" height="57.0" fill="#e43232"/>
<rect x="1351.90" y="642.9" width="1.8" height="68.8" fill="#48dcdc"/>
<rect x="1357.90" y="654.7" width="1.8" height="57.0" fill="#48dcdc"/>
<rect x="1363.90" y="654.7" width="1.8" height="57.0" fill="#e43232"/>
<rect x="1368.40" y="653.1" width="1.8" height="58.6" fill="#48dcdc"/>
<rect x="1374.40" y="647.3" width="1.8" height="64.4" fill="#48dcdc"/>
<rect x="1380.40" y="659.1" width="1.8" height="52.6" fill="#48dcdc"/>
<rect x="1386.40" y="653.1" width="1.8" height="58.6" fill="#e43232"/>
<rect x="1390.90" y="652.0" width="1.8" height="59.7" fill="#e43232"/>
<rect x="1396.90" y="657.6" width="1.8" height="54.1" fill="#e43232"/>
<rect x="1402.90" y="654.3" width="1.8" height="57.4" fill="#48dcdc"/>
<rect x="1407.40" y="659.3" width="1.8" height="52.4" fill="#48dcdc"/>
<rect x="1413.40" y="654.3" width="1.8" height="57.4" fill="#48dcdc"/>
<rect x="1419.40" y="660.7" width="1.8" height="51.0" fill="#48dcdc"/>
<rect x="1425.40" y="660.7" width="1.8" height="51.0" fill="#48dcdc"/>
<rect x="1429.90" y="660.7" width="1.8" height="51.0" fill="#48dcdc"/>
<rect x="1435.90" y="668.1" width="1.8" height="43.6" fill="#e43232"/>
<rect x="1441.90" y="644.2" width="1.8" height="67.5" fill="#e43232"/>
<rect x="1446.40" y="650.1" width="1.8" height="61.6" fill="#48dcdc"/>
<polyline points="4.3,672.0 10.3,672.0 16.3,671.9 22.3,671.9 26.8,671.8 32.8,671.8 38.8,671.7 43.3,671.6 49.3,671.6 55.3,671.5 61.3,671.5 65.8,672.9 71.8,673.6 77.8,674.5 82.3,675.0 88.3,675.8 94.3,676.9 100.3,677.8 104.8,679.2 110.8,679.9 116.8,680.0 121.3,678.7 127.3,678.3 133.3,678.2 139.3,678.1 143.8,678.2 149.8,677.6 155.8,677.2 160.3,676.8 166.3,675.2 172.3,674.5 178.3,674.0 182.8,673.9 188.8,673.9 194.8,673.1 199.3,672.6 205.3,672.4 211.3,671.5 217.3,669.6 221.8,669.2 227.8,669.1 233.8,669.4 238.3,669.1 244.3,668.8 250.3,669.1 256.3,668.5 260.8,667.3 266.8,667.3 272.8,667.6 277.3,668.1 283.3,668.8 289.3,669.9 295.3,670.8 299.8,670.5 305.8,671.5 311.8,672.6 316.3,674.2 322.3,675.2 328.3,676.2 334.3,677.1 338.8,677.4 344.8,677.4 350.8,677.4 355.3,678.4 361.3,678.0 367.3,678.0 373.3,678.2 377.8,678.3 383.8,679.3 389.8,679.8 394.3,679.6 400.3,679.6 406.3,680.1 412.3,680.2 416.8,680.5 422.8,680.7 428.8,680.2 433.3,679.8 439.3,679.7 445.3,678.8 451.3,679.0 455.8,679.2 461.8,679.2 467.8,679.0 472.3,678.3 478.3,678.2 484.3,678.6 490.3,678.0 494.8,677.7 500.8,677.9 506.8,678.6 511.3,678.1 517.3,677.2 523.3,677.4 529.3,678.0 533.8,678.3 539.8,678.9 545.8,678.7 550.3,678.0 556.3,678.4 562.3,677.8 568.3,677.5 572.8,678.0 578.8,677.0 584.8,674.6 589.3,672.9 595.3,671.9 601.3,672.5 607.3,673.2 611.8,673.3 617.8,673.2 623.8,673.5 628.3,672.1 634.3,670.7 640.3,670.6 646.3,670.8 650.8,669.8 656.8,669.5 662.8,669.4 667.3,667.3 673.3,663.6 679.3,661.1 685.3,660.5 689.8,660.2 695.8,660.7 701.8,659.6 706.3,659.8 712.3,659.6 718.3,657.9 724.3,659.6 728.8,663.0 734.8,664.6 740.8,665.4 745.3,667.4 751.3,667.1 757.3,668.0 763.3,668.0 767.8,667.6 773.8,668.9 779.8,668.8 784.3,668.9 790.3,669.8 796.3,670.2 802.3,669.9 806.8,671.8 812.8,672.9 818.8,674.4 823.3,675.8 829.3,676.5 835.3,677.0 841.3,676.1 845.8,676.2 851.8,676.5 857.8,677.2 862.3,677.6 868.3,677.5 874.3,676.0 880.3,674.0 884.8,672.4 890.8,670.2 896.8,669.8 901.3,668.6 907.3,668.0 913.3,666.8 919.3,665.4 923.8,664.6 929.8,665.2 935.8,666.2 940.3,667.0 946.3,669.1 952.3,670.0 958.3,670.5 962.8,671.0 968.8,671.4 974.8,672.6 979.3,672.8 985.3,673.1 991.3,673.1 997.3,672.2 1001.8,669.7 1007.8,668.2 1013.8,666.8 1018.3,663.5 1024.3,659.3 1030.3,655.8 1036.3,651.1 1040.8,647.1 1046.8,639.4 1052.8,631.6 1057.3,627.6 1063.3,625.0 1069.3,622.9 1075.3,618.9 1079.8,615.7 1085.8,609.3 1091.8,604.6 1096.3,598.6 1102.3,598.5 1108.3,596.8 1114.3,594.2 1118.8,592.5 1124.8,592.2 1130.8,595.8 1135.3,599.4 1141.3,604.5 1147.3,608.3 1153.3,614.0 1157.8,617.8 1163.8,623.3 1169.8,628.6 1174.3,631.1 1180.3,631.1 1186.3,629.0 1192.3,626.3 1196.8,625.6 1202.8,625.6 1208.8,624.1 1213.3,624.4 1219.3,623.8 1225.3,622.5 1231.3,622.8 1235.8,623.6 1241.8,625.8 1247.8,627.8 1252.3,628.5 1258.3,630.2 1264.3,631.4 1270.3,631.9 1274.8,634.2 1280.8,634.2 1286.8,634.4 1291.3,634.2 1297.3,636.6 1303.3,638.6 1309.3,640.8 1313.8,643.1 1319.8,646.3 1325.8,646.7 1330.3,648.2 1336.3,651.1 1342.3,652.0 1348.3,653.7 1352.8,652.2 1358.8,653.1 1364.8,653.2 1369.3,652.9 1375.3,651.6 1381.3,653.5 1387.3,653.2 1391.8,652.6 1397.8,652.9 1403.8,652.9 1408.3,654.5 1414.3,654.5 1420.3,655.1 1426.3,655.8 1430.8,657.2 1436.8,658.1 1442.8,657.2 1447.3,657.0" fill="none" stroke="#f8f800" stroke-width="1.45" stroke-linejoin="round" />
<polyline points="4.3,674.8 10.3,674.8 16.3,672.8 22.3,671.5 26.8,671.4 32.8,670.3 38.8,671.0 43.3,671.4 49.3,671.4 55.3,671.7 61.3,672.8 65.8,674.8 71.8,675.9 77.8,677.7 82.3,678.4 88.3,678.7 94.3,679.1 100.3,679.7 104.8,680.6 110.8,681.5 116.8,681.2 121.3,678.4 127.3,676.9 133.3,675.9 139.3,674.7 143.8,675.2 149.8,676.7 155.8,677.5 160.3,677.7 166.3,675.8 172.3,673.7 178.3,671.4 182.8,670.3 188.8,670.1 194.8,670.3 199.3,671.6 205.3,673.4 211.3,672.8 217.3,669.2 221.8,668.1 227.8,666.6 233.8,665.5 238.3,665.4 244.3,668.4 250.3,670.1 256.3,670.4 260.8,669.1 266.8,669.2 272.8,666.8 277.3,666.2 283.3,667.1 289.3,670.7 295.3,672.3 299.8,674.1 305.8,676.9 311.8,678.1 316.3,677.8 322.3,678.2 328.3,678.3 334.3,677.4 338.8,676.8 344.8,677.0 350.8,676.7 355.3,678.4 361.3,678.7 367.3,679.3 373.3,679.3 377.8,679.9 383.8,680.2 389.8,680.8 394.3,679.9 400.3,679.8 406.3,680.2 412.3,680.2 416.8,680.2 422.8,681.4 428.8,680.7 433.3,679.4 439.3,679.3 445.3,677.5 451.3,676.6 455.8,677.8 461.8,679.1 467.8,678.8 472.3,679.1 478.3,679.9 484.3,679.3 490.3,676.9 494.8,676.7 500.8,676.7 506.8,677.3 511.3,676.9 517.3,677.5 523.3,678.1 529.3,679.3 533.8,679.3 539.8,680.8 545.8,679.9 550.3,677.8 556.3,677.6 562.3,676.4 568.3,674.3 572.8,676.1 578.8,676.1 584.8,671.6 589.3,669.4 595.3,669.4 601.3,668.9 607.3,670.3 611.8,675.0 617.8,676.9 623.8,677.5 628.3,675.4 634.3,671.2 640.3,666.2 646.3,664.7 650.8,662.1 656.8,663.6 662.8,667.5 667.3,668.4 673.3,662.6 679.3,660.2 685.3,657.5 689.8,653.0 695.8,653.0 701.8,656.6 706.3,659.3 712.3,661.7 718.3,662.9 724.3,666.2 728.8,669.5 734.8,669.8 740.8,669.2 745.3,671.9 751.3,668.0 757.3,666.4 763.3,666.2 767.8,666.0 773.8,666.0 779.8,669.6 784.3,671.4 790.3,673.5 796.3,674.3 802.3,673.8 806.8,674.0 812.8,674.4 818.8,675.3 823.3,677.3 829.3,679.3 835.3,679.9 841.3,677.8 845.8,677.2 851.8,675.7 857.8,675.1 862.3,675.3 868.3,677.1 874.3,674.8 880.3,672.4 884.8,669.8 890.8,665.0 896.8,662.4 901.3,662.4 907.3,663.6 913.3,663.9 919.3,665.7 923.8,666.9 929.8,668.1 935.8,668.7 940.3,670.2 946.3,672.6 952.3,673.2 958.3,672.9 962.8,673.2 968.8,672.7 974.8,672.7 979.3,672.4 985.3,673.2 991.3,672.9 997.3,671.7 1001.8,666.6 1007.8,663.9 1013.8,660.3 1018.3,654.0 1024.3,646.8 1030.3,645.0 1036.3,638.3 1040.8,633.8 1046.8,624.8 1052.8,616.5 1057.3,610.2 1063.3,611.7 1069.3,612.0 1075.3,612.9 1079.8,615.0 1085.8,608.4 1091.8,597.5 1096.3,585.1 1102.3,584.0 1108.3,578.5 1114.3,580.0 1118.8,587.6 1124.8,599.3 1130.8,607.7 1135.3,620.3 1141.3,629.0 1147.3,629.0 1153.3,628.7 1157.8,627.8 1163.8,626.3 1169.8,628.1 1174.3,633.3 1180.3,633.4 1186.3,630.1 1192.3,626.2 1196.8,623.0 1202.8,618.0 1208.8,614.8 1213.3,618.8 1219.3,621.3 1225.3,622.1 1231.3,627.6 1235.8,632.4 1241.8,632.8 1247.8,634.3 1252.3,634.9 1258.3,632.8 1264.3,630.5 1270.3,631.0 1274.8,634.1 1280.8,633.5 1286.8,635.9 1291.3,637.9 1297.3,642.2 1303.3,643.1 1309.3,648.2 1313.8,650.3 1319.8,654.8 1325.8,651.1 1330.3,653.2 1336.3,654.1 1342.3,653.8 1348.3,652.6 1352.8,653.2 1358.8,652.9 1364.8,652.3 1369.3,652.0 1375.3,650.5 1381.3,653.8 1387.3,653.5 1391.8,652.9 1397.8,653.8 1403.8,655.2 1408.3,655.3 1414.3,655.5 1420.3,657.2 1426.3,657.9 1430.8,659.1 1436.8,660.9 1442.8,658.9 1447.3,656.8" fill="none" stroke="#e4e4e4" stroke-width="1.35" stroke-linejoin="round" />
<g>
<text x="210.4" y="30.2" font-size="17.6" fill="#ececec" textLength="110.9" lengthAdjust="spacingAndGlyphs" style="font-family:'Liberation Sans',sans-serif">MA5: 1451.97</text>
<text x="329.1" y="30.2" font-size="17.6" fill="#ffff00" textLength="121" lengthAdjust="spacingAndGlyphs" style="font-family:'Liberation Sans',sans-serif">MA10: 1465.19</text>
<text x="457.8" y="30.2" font-size="17.6" fill="#ff00ff" textLength="121.2" lengthAdjust="spacingAndGlyphs" style="font-family:'Liberation Sans',sans-serif">MA20: 1476.84</text>
<text x="587.1" y="30.2" font-size="17.6" fill="#00f800" textLength="131.2" lengthAdjust="spacingAndGlyphs" style="font-family:'Liberation Sans',sans-serif">MA250: 1468.14</text>
<text x="42.8" y="55.8" font-size="18.4" fill="#c8c8c8" textLength="66.5" lengthAdjust="spacingAndGlyphs" style="font-family:'Liberation Sans',sans-serif">1876.20</text>
<text x="597.5" y="519.4" font-size="18" fill="#c8c8c8" textLength="65" lengthAdjust="spacingAndGlyphs" style="font-family:'Liberation Sans',sans-serif">1184.91</text>
<rect x="577.7" y="509.8" width="2.7" height="3.5" fill="#b4b4b4"/>
<path d="M580 511.5 L596 511.5 M581.3 508.6 L584 508.6" stroke="#c8c8c8" stroke-width="1.3" fill="none"/>
<text x="1299.2" y="218.3" font-size="18.5" fill="#c8c8c8" textLength="147.9" lengthAdjust="spacingAndGlyphs" style="font-family:'Liberation Sans',sans-serif">1608.72 - 1563.61</text>
<text x="2.3" y="557.2" font-size="17.6" fill="#ececec" textLength="191.3" lengthAdjust="spacingAndGlyphs" style="font-family:'Liberation Sans',sans-serif">VOLUME: 75916368.00</text>
<text x="201.6" y="557.2" font-size="17.6" fill="#ececec" textLength="152.2" lengthAdjust="spacingAndGlyphs" style="font-family:'Liberation Sans',sans-serif">MA5: 67750360.00</text>
<text x="361.35" y="557.2" font-size="17.6" fill="#ffff00" textLength="164.2" lengthAdjust="spacingAndGlyphs" style="font-family:'Liberation Sans',sans-serif">MA10: 67654696.00</text>
<text x="2.1" y="732.6" font-size="18" fill="#c8c8c8" textLength="86.4" lengthAdjust="spacingAndGlyphs" style="font-family:'Liberation Sans',sans-serif">KDJ(9,3,3)</text>
<text x="95.7" y="732.6" font-size="18" fill="#ececec" textLength="68" lengthAdjust="spacingAndGlyphs" style="font-family:'Liberation Sans',sans-serif">K: 52.36</text>
<text x="171.5" y="732.6" font-size="18" fill="#ffff00" textLength="68" lengthAdjust="spacingAndGlyphs" style="font-family:'Liberation Sans',sans-serif">D: 41.94</text>
<text x="247.7" y="732.6" font-size="18" fill="#ff00ff" textLength="64" lengthAdjust="spacingAndGlyphs" style="font-family:'Liberation Sans',sans-serif">J: 73.20</text>
<text x="1471.3" y="709" font-size="17.3" fill="#e03030" style="font-family:'Liberation Sans',sans-serif">X</text>
<path d="M21.4 40.1 L27.8 40.1 M21.4 43.2 L27.8 43.2 M21.7 39.5 L21.7 44 M23.8 45.9 L25.9 48.1" stroke="#c8c8c8" stroke-width="1.2" fill="none"/>
<path d="M32 46.1 L35.6 46.1 L37 47.6 L40 47.6" stroke="#c0c0c0" stroke-width="1.3" fill="none"/>
<text y="31" font-size="17.9" fill="#e4e4e4" style="font-family:'Liberation Sans','Noto Sans CJK SC',sans-serif"><tspan x="2.5">创业板指</tspan><tspan x="75.1">(</tspan><tspan x="82.3">日线</tspan><tspan x="116.4">.</tspan><tspan x="121.6">前复权</tspan><tspan x="176.7">)</tspan></text>
</g>
<polyline points="1288.8,293.9 1312.4,296.0 1325.9,298.0 1347.4,301.4 1360.9,303.4 1374.4,307.4 1387.9,309.5 1401.4,311.2 1414.9,313.5 1428.3,316.9 1441.8,318.2 1445.9,319.6" fill="none" stroke="#00f000" stroke-width="1.5" stroke-linejoin="round" />
<polyline points="4.3,78.4 9.4,75.7 16.2,73.0 22.2,69.0 27.0,68.3 44.5,68.6 51.2,72.4 59.3,75.7 65.4,83.2 74.2,87.5 83.6,96.6 90.4,101.4 97.1,106.1 100.7,110.0 107.4,116.7 116.9,126.9 122.3,140.3 131.7,155.9 142.5,176.1 145.9,180.0 158.0,196.2 167.4,204.3 179.6,211.7 193.1,229.9 205.2,238.0 211.9,244.7 220.0,249.0 229.5,249.0 240.3,244.7 250.1,241.4 260.8,235.3 272.9,230.6 280.7,231.0 289.4,234.0 302.9,235.4 313.7,244.2 327.2,254.3 336.6,259.0 343.4,262.4 350.1,267.1 360.9,277.9 373.1,290.7 379.8,300.1 386.5,304.8 394.4,310.2 400.3,311.6 406.4,313.6 413.5,316.1 427.0,318.1 439.1,320.1 445.9,324.2 456.6,332.9 470.1,339.0 483.6,345.7 494.4,350.5 502.5,353.2 511.3,357.2 518.7,360.2 523.1,360.2 529.5,365.3 540.3,372.0 548.3,380.1 559.1,390.9 567.2,400.0 571.2,404.0 579.3,410.8 584.7,412.8 592.8,414.8 600.9,421.6 607.7,427.0 613.1,433.0 619.8,437.1 627.9,445.2 631.9,446.5 652.2,446.5 663.2,442.9 673.9,432.1 683.4,421.3 690.1,414.6 700.9,410.5 709.0,406.5 718.2,403.8 728.6,399.7 738.7,397.7 751.1,397.3 757.2,395.0 767.7,394.1 776.4,394.1 781.8,397.0 790.2,398.4 799.4,399.7 803.0,403.5 810.8,409.3 823.2,415.3 832.4,416.0 843.2,420.3 855.3,424.1 863.4,432.2 871.5,438.9 880.9,444.3 890.8,447.7 901.1,453.8 909.2,458.5 919.1,459.4 929.7,459.8 940.3,460.5 946.3,463.2 968.6,463.2 979.4,462.5 988.8,462.1 994.2,458.5 1000.0,456.5 1009.2,450.0 1027.4,433.8 1036.9,426.4 1040.9,419.0 1047.7,410.9 1055.8,394.7 1065.2,381.2 1073.3,365.1 1077.3,355.6 1080.0,344.8 1084.3,335.0 1091.7,314.8 1099.1,295.9 1107.9,271.6 1117.3,252.8 1128.1,233.9 1137.6,217.7 1143.8,205.0 1150.6,196.9 1158.0,188.8 1163.8,184.8 1169.9,180.8 1174.9,178.1 1180.3,174.0 1186.3,169.3 1192.4,167.3 1196.7,164.6 1202.8,160.5 1208.8,158.5 1215.3,158.5 1219.4,159.8 1225.2,159.8 1231.2,158.5 1247.9,159.0 1255.3,158.3 1264.2,157.6 1268.8,157.6 1274.9,154.9 1281.0,151.6 1285.7,150.9 1291.8,154.3 1298.5,159.7 1303.9,166.4 1309.3,174.5 1314.7,186.6 1322.8,198.8 1330.9,209.6 1339.0,219.0 1347.1,226.4 1350.5,230.5 1355.5,240.0 1363.6,248.1 1369.0,258.9 1377.1,269.7 1385.2,280.5 1391.9,287.2 1397.7,293.9 1403.8,298.0 1408.1,302.7 1414.2,304.7 1420.3,306.1 1426.3,306.8 1430.8,308.8 1436.8,311.5 1442.8,312.2 1446.6,313.5" fill="none" stroke="#f400f4" stroke-width="1.35" stroke-linejoin="round" />
<polyline points="4.3,61.6 10.1,60.9 16.2,59.6 22.2,60.0 27.0,62.3 33.0,64.3 39.1,67.6 44.5,73.7 49.2,80.5 58.0,88.5 62.0,93.9 67.4,108.8 71.9,114.8 79.6,122.3 82.3,127.7 88.3,134.4 94.4,141.8 100.2,146.5 107.4,151.1 115.5,156.5 120.9,168.0 127.7,184.2 134.4,199.0 139.8,209.8 145.2,221.9 153.9,239.3 160.3,250.8 166.1,254.8 172.8,258.2 179.6,254.8 189.0,253.5 197.1,252.8 205.2,248.8 217.1,243.4 228.1,240.0 234.9,238.7 244.3,231.9 250.1,227.2 256.2,224.5 260.8,221.8 266.8,219.1 274.0,219.1 279.4,221.1 288.8,227.2 295.3,232.6 298.9,236.1 305.9,244.8 312.0,258.3 316.1,267.8 320.5,279.9 328.3,289.3 334.3,295.4 340.3,298.1 347.4,302.2 352.8,306.2 361.2,310.2 367.3,310.6 377.8,313.6 386.5,317.7 394.4,323.1 400.3,323.7 416.9,323.7 428.8,323.5 435.1,323.7 439.4,326.4 445.5,329.1 451.2,335.6 455.7,341.7 461.8,347.8 467.8,352.5 472.4,358.6 478.2,364.6 484.3,368.7 490.1,372.7 494.8,374.7 506.8,375.0 511.3,372.7 517.1,372.0 521.4,370.0 529.2,371.4 537.6,372.0 543.0,378.1 548.3,386.9 554.4,400.0 562.2,412.1 568.3,425.6 572.9,439.1 578.7,451.0 584.7,453.9 589.2,458.0 595.3,462.0 601.2,460.7 607.3,461.8 611.7,462.0 617.8,458.0 623.6,456.0 628.3,449.9 634.4,443.2 640.3,439.8 646.3,435.5 656.8,428.1 662.8,424.0 667.2,417.3 673.3,407.8 679.1,399.7 685.1,391.6 691.5,386.9 695.8,385.2 701.9,384.9 706.3,383.6 713.1,382.2 718.2,384.2 722.5,386.9 728.6,392.3 734.6,395.7 740.7,402.4 745.2,407.8 751.1,409.2 757.2,405.8 767.7,406.2 773.7,405.1 779.8,402.4 787.2,401.1 796.0,398.4 800.7,399.1 806.7,405.2 816.2,416.0 823.2,423.4 829.3,427.5 835.3,430.2 841.1,434.9 845.9,441.6 851.9,447.0 857.7,451.1 862.3,456.5 868.4,461.9 874.2,463.5 884.7,463.5 890.8,464.6 896.8,466.6 913.3,466.6 919.1,463.2 923.7,460.5 929.7,458.9 940.3,458.9 946.3,460.5 952.1,459.8 958.2,458.9 968.6,460.5 974.6,462.1 985.2,462.5 991.2,460.5 997.2,456.5 1000.0,452.0 1013.7,436.5 1018.3,425.8 1024.3,412.3 1030.1,401.5 1036.2,389.3 1040.6,377.2 1045.0,365.1 1049.7,354.3 1054.4,341.5 1058.0,335.0 1067.4,314.8 1074.8,297.3 1079.6,278.4 1085.0,259.5 1089.7,243.3 1094.4,229.8 1101.8,215.0 1104.7,205.0 1112.8,188.8 1118.9,179.4 1125.0,171.3 1130.8,164.6 1135.5,163.2 1141.4,164.6 1147.2,163.2 1153.3,161.9 1158.0,165.9 1163.8,172.7 1169.9,178.1 1174.9,179.4 1180.3,178.1 1186.3,174.0 1192.4,170.0 1196.7,165.9 1202.8,160.5 1208.8,157.8 1213.3,153.8 1219.4,145.7 1225.4,141.5 1231.7,137.4 1237.8,140.1 1241.8,142.1 1247.9,146.2 1252.4,150.9 1258.4,154.3 1264.2,156.3 1270.2,161.7 1277.0,161.7 1282.4,164.4 1289.1,167.8 1297.2,175.9 1301.2,185.3 1306.6,197.4 1310.7,208.2 1315.4,221.7 1320.1,235.2 1323.2,240.0 1327.2,248.1 1331.2,262.9 1336.2,271.0 1342.0,279.8 1348.1,287.2 1352.8,293.3 1358.9,296.6 1364.7,297.3 1371.7,297.3 1375.1,299.3 1381.1,304.7 1387.2,306.1 1391.9,304.7 1397.7,307.4 1403.8,310.8 1414.2,310.8 1420.3,312.8 1426.3,314.8 1430.8,317.5 1436.8,318.2 1442.8,319.6 1445.9,320.9" fill="none" stroke="#f8f800" stroke-width="1.4" stroke-linejoin="round" />
<polyline points="4.3,65.6 8.0,62.3 13.5,60.2 22.2,60.2 27.0,58.2 31.0,61.6 37.8,71.0 43.2,84.5 49.2,102.0 55.3,115.5 61.4,127.7 65.4,140.5 72.2,143.8 77.8,141.8 82.3,143.8 88.3,143.6 94.4,145.9 100.2,149.2 104.9,157.3 111.5,163.9 116.9,174.7 120.9,192.3 126.3,212.5 131.0,225.9 139.1,255.5 143.8,265.6 149.9,265.0 155.3,267.0 160.3,264.3 166.1,257.5 172.2,250.1 179.6,242.7 185.0,241.4 189.0,244.1 194.4,251.5 199.8,252.2 206.5,254.8 211.9,254.2 217.1,243.4 222.0,233.9 228.1,227.2 233.5,223.8 238.2,218.4 244.3,221.1 250.1,223.8 256.2,221.8 260.8,220.5 266.8,216.7 272.9,215.3 278.0,217.8 283.4,225.9 289.2,233.9 295.3,246.0 300.0,262.3 305.9,279.9 316.1,302.8 322.2,315.6 328.3,318.3 334.3,313.6 340.3,300.1 347.4,293.4 352.2,293.1 356.9,297.4 361.2,307.5 367.3,319.0 373.1,329.1 377.8,334.1 385.2,334.1 389.9,332.8 394.4,324.4 400.3,318.3 406.4,314.3 412.2,313.6 416.9,316.3 422.9,323.1 428.8,328.4 433.5,334.5 439.4,337.9 445.5,341.3 451.3,347.3 455.7,355.9 461.8,361.9 467.8,365.3 472.4,374.7 478.2,380.8 484.3,382.8 494.8,382.8 500.7,376.1 506.8,366.6 511.3,362.6 517.1,360.6 523.1,357.9 529.2,366.6 533.8,374.7 539.9,383.5 545.7,401.7 551.0,422.9 556.1,434.4 562.2,453.9 568.3,470.1 572.9,477.5 578.7,479.6 584.7,468.8 589.2,459.3 595.3,453.9 601.2,443.8 606.3,442.5 611.7,451.2 617.8,455.6 623.6,458.0 628.3,454.6 634.4,440.5 640.3,427.0 646.3,415.2 650.7,409.2 656.8,403.1 662.8,405.8 667.2,404.5 673.3,397.0 679.1,393.0 685.1,380.9 689.7,371.1 695.8,367.4 701.9,374.1 706.3,376.8 712.4,382.2 718.2,394.3 722.5,405.8 728.6,411.9 734.6,414.6 740.7,420.6 745.2,419.3 751.1,408.5 757.2,399.7 763.0,395.0 767.7,391.0 772.4,388.9 776.4,391.6 781.8,399.7 790.2,405.8 796.0,407.2 802.1,411.9 812.8,422.8 818.9,434.9 823.2,440.3 829.3,445.0 835.3,447.0 841.1,449.7 845.9,450.4 851.9,453.8 857.7,456.5 862.3,465.2 868.4,472.7 874.2,474.7 880.2,472.7 884.7,470.6 890.8,465.9 896.8,460.5 901.1,457.2 907.2,460.5 913.3,460.5 919.1,459.8 923.7,460.5 929.7,458.9 935.5,455.8 940.3,457.8 946.3,459.8 952.1,458.9 958.2,458.9 962.8,460.5 968.6,461.9 974.6,464.6 979.4,469.7 985.2,469.7 991.2,460.5 997.2,447.0 999.8,436.5 1003.2,424.4 1007.9,410.9 1013.7,398.8 1018.3,386.6 1022.0,380.6 1030.1,371.1 1036.2,365.1 1040.6,350.2 1045.0,339.4 1046.5,335.0 1053.9,309.4 1060.0,291.9 1064.7,278.4 1070.1,264.9 1075.5,252.8 1079.6,237.9 1082.9,224.4 1085.6,215.0 1088.5,205.0 1096.4,182.1 1102.3,165.9 1107.4,155.1 1111.5,154.5 1115.5,158.5 1119.6,161.2 1125.0,159.8 1130.8,163.2 1135.5,172.0 1141.4,172.7 1147.2,165.9 1153.3,161.9 1158.0,165.9 1163.8,176.7 1169.9,186.1 1174.9,194.9 1180.3,194.9 1186.3,180.8 1192.4,164.6 1196.7,148.4 1200.5,132.2 1204.5,124.8 1209.3,120.7 1215.3,123.4 1220.7,128.2 1225.2,137.6 1231.2,148.4 1235.8,157.8 1241.8,164.4 1247.2,166.4 1252.4,164.4 1258.4,161.7 1264.2,158.3 1270.2,157.6 1274.9,159.0 1281.0,163.0 1287.1,173.2 1291.5,182.6 1297.2,190.7 1300.6,202.8 1303.9,219.0 1308.0,236.5 1311.0,250.8 1313.7,264.3 1319.8,284.5 1325.9,299.3 1330.3,298.0 1336.2,299.3 1342.0,292.6 1348.1,284.5 1352.8,291.9 1358.9,296.6 1364.7,298.0 1369.3,300.0 1375.1,312.8 1381.1,318.2 1387.2,314.8 1391.9,313.5 1397.7,311.5 1403.8,308.8 1408.1,302.0 1414.2,304.7 1420.3,311.5 1426.3,316.9 1430.8,327.7 1436.8,335.1 1442.8,333.1 1446.6,331.7" fill="none" stroke="#e0e0e0" stroke-width="1.3" stroke-linejoin="round" />
<polyline points="3.6,840.0 9.0,808.0 16.0,771.0 21.0,790.0 26.0,816.0 32.0,860.0 38.0,874.0 43.0,885.6 49.0,888.0 56.0,874.0 65.0,872.0 70.0,852.0 77.0,836.0 82.0,830.0 88.0,842.0 94.0,856.0 100.0,831.0 106.0,852.0 112.0,861.0 118.0,867.0 122.0,867.0 128.0,858.0 133.6,867.0 140.0,852.0 149.0,840.0 160.0,841.0 166.0,796.0 172.0,776.0 178.6,752.0 183.0,780.0 189.0,823.0 195.0,837.0 200.0,806.0 205.0,789.0 211.0,804.0 216.0,778.0 221.0,760.0 227.0,756.4 234.0,753.0 239.0,770.0 244.0,798.0 250.0,796.0 256.0,786.0 261.0,778.6 267.0,778.6 272.0,806.0 278.0,844.0 284.0,870.0 290.0,879.0 295.0,888.0 299.6,878.0 306.0,882.0 311.0,880.0 317.0,863.0 322.0,863.0 328.0,840.0 334.0,814.0 340.0,792.0 345.0,771.0 350.0,788.0 355.0,814.0 362.0,853.0 367.0,851.0 372.0,838.0 377.0,840.0 383.0,831.0 390.0,828.0 395.0,792.0 400.0,765.0 406.0,761.0 411.0,776.0 414.0,800.0 417.0,838.0 423.0,841.0 428.0,831.0 434.0,852.0 439.0,865.0 446.0,870.0 451.0,877.6 456.0,872.0 461.0,872.0 467.0,856.0 472.0,867.0 478.0,869.0 483.0,852.0 489.0,826.0 495.0,798.0 500.0,766.0 506.0,755.0 511.0,748.4 517.0,769.0 523.0,771.0 527.0,802.0 530.0,828.0 534.0,860.0 540.0,871.0 545.6,879.0 550.0,871.0 556.0,871.0 562.0,874.4 568.0,867.0 572.4,873.0 577.0,852.0 581.0,824.0 585.0,796.0 589.0,777.0 595.0,773.6 600.0,780.0 606.0,791.0 611.0,805.0 617.0,809.0 623.0,801.0 629.0,800.0 634.0,769.0 639.0,764.0 645.0,763.0 650.0,766.0 656.0,778.0 662.0,789.0 667.0,769.0 673.0,765.0 679.0,772.0 685.0,760.0 690.0,766.0 695.0,776.0 699.0,796.0 703.0,816.0 712.0,838.0 718.0,868.0 724.0,882.0 730.0,870.0 735.0,854.0 741.0,858.0 745.0,844.0 751.0,792.0 757.0,759.0 763.0,750.0 768.0,780.0 774.0,808.0 780.0,832.0 785.0,835.6 790.0,833.0 796.0,836.0 802.0,866.0 809.0,867.0 814.0,870.0 819.0,874.4 824.0,867.0 829.0,865.0 835.0,850.0 841.0,843.0 846.0,845.0 852.0,856.0 858.0,850.0 863.0,862.0 868.4,869.0 872.0,844.0 877.0,810.0 881.0,784.0 886.0,772.0 891.0,769.6 897.0,772.0 902.0,776.0 907.6,792.0 913.0,784.0 919.0,777.0 924.0,817.0 930.0,804.0 935.6,791.0 941.0,818.0 946.4,840.0 952.0,820.0 957.0,810.0 963.0,821.0 969.0,840.0 974.0,864.0 979.6,870.0 982.0,840.0 987.0,796.0 993.0,760.0 999.0,746.0 1004.0,743.6 1010.0,747.0 1014.0,751.0 1018.0,748.4 1025.0,759.0 1030.0,761.0 1036.4,776.0 1042.0,764.0 1047.0,759.0 1052.0,769.0 1056.0,782.0 1063.0,787.6 1070.0,776.0 1076.0,772.0 1081.0,762.0 1086.0,759.0 1091.0,766.0 1096.4,786.0 1102.0,771.0 1108.4,766.4 1113.0,778.0 1117.0,806.0 1121.0,836.0 1125.0,850.4 1130.0,841.0 1135.0,832.0 1141.0,837.0 1147.0,831.0 1153.0,831.0 1158.0,840.0 1163.6,866.0 1169.0,863.6 1174.4,869.0 1178.0,840.0 1182.0,800.0 1187.0,771.0 1192.0,759.0 1197.0,747.0 1202.4,743.6 1206.0,755.0 1211.0,772.0 1216.0,785.0 1220.0,800.0 1225.0,822.0 1230.0,848.0 1235.6,879.6 1241.0,856.0 1247.0,834.0 1253.0,824.0 1258.0,804.0 1264.0,800.4 1270.0,806.0 1274.4,778.0 1279.0,796.0 1284.0,824.0 1290.0,859.0 1294.0,866.0 1303.4,877.6 1309.0,873.0 1315.0,873.0 1320.6,876.0 1325.0,857.0 1329.0,850.4 1336.0,850.0 1341.0,836.0 1345.0,816.0 1348.6,797.0 1353.0,824.0 1359.0,834.4 1365.0,816.0 1369.4,814.4 1374.0,848.0 1381.6,862.4 1386.0,840.0 1392.0,801.0 1398.0,793.0 1403.0,785.0 1408.0,784.4 1413.0,800.0 1419.0,820.0 1426.0,842.0 1431.4,867.0 1437.0,859.0 1440.6,830.0 1444.0,800.0 1447.4,791.0" fill="none" stroke="#f400f4" stroke-width="1.15" stroke-linejoin="round" />
<polyline points="3.6,798.0 10.0,799.0 15.0,796.0 20.0,795.0 26.0,798.0 32.0,805.0 38.0,816.0 44.0,828.0 50.0,837.0 58.0,844.0 65.0,849.0 72.0,848.4 80.0,846.0 86.0,844.4 94.0,846.4 100.0,844.0 108.0,847.0 120.0,851.0 130.0,854.0 140.0,855.0 148.0,852.0 156.0,850.0 162.0,846.0 168.0,836.0 174.0,825.0 181.0,814.0 188.0,813.6 196.0,817.0 202.0,814.0 212.0,810.0 220.0,801.0 230.0,791.0 238.0,785.0 246.0,787.0 252.0,788.0 260.0,785.0 267.0,784.0 274.0,790.0 282.0,802.0 290.0,818.0 298.0,832.0 306.0,842.0 314.0,848.0 322.0,850.0 328.0,848.4 334.0,844.0 340.0,836.0 346.0,828.0 352.0,821.6 356.0,822.0 362.0,827.0 370.0,830.0 378.0,832.6 390.0,831.6 398.0,821.0 406.0,810.0 413.0,805.0 420.0,812.0 428.0,816.0 436.0,824.0 446.0,835.0 456.0,845.0 462.0,848.6 468.0,849.0 474.0,852.0 480.0,855.0 488.0,850.0 496.0,842.0 504.0,826.0 512.0,810.0 518.0,805.0 524.0,799.0 530.0,806.0 536.0,816.0 546.0,830.0 558.0,842.0 568.0,847.0 574.0,852.0 580.0,847.0 588.0,836.0 596.0,825.0 605.0,816.0 616.0,813.0 628.0,810.0 638.0,800.0 650.0,789.0 656.0,787.6 663.0,787.0 670.0,783.6 680.0,780.0 690.0,777.0 696.0,777.0 702.0,781.0 708.0,790.0 714.0,798.0 720.0,810.0 728.0,826.0 736.0,830.0 744.0,835.0 748.0,832.0 756.0,820.0 763.0,809.0 768.0,804.0 778.0,807.0 784.0,812.0 794.0,817.0 802.0,825.0 810.0,834.0 818.0,840.0 824.0,845.0 830.0,849.0 838.0,848.4 846.0,847.0 858.0,850.0 869.0,853.0 875.0,850.0 880.0,842.0 888.0,826.0 896.0,816.0 904.0,808.0 913.0,804.0 920.0,799.0 926.0,803.0 930.0,803.0 936.0,800.0 941.0,805.0 948.0,809.0 954.0,811.0 957.0,810.4 963.0,813.0 969.0,816.0 974.0,822.0 980.0,828.0 985.0,826.0 992.0,816.0 1000.0,800.0 1008.0,790.0 1016.0,782.0 1022.0,778.0 1028.0,775.6 1036.0,775.0 1042.0,772.0 1048.0,771.0 1054.0,772.0 1062.0,775.0 1070.0,776.0 1076.0,775.0 1082.0,772.0 1088.0,771.0 1096.0,772.0 1103.0,772.0 1110.0,771.6 1115.0,775.0 1120.0,785.0 1127.0,795.0 1134.0,803.0 1142.0,808.4 1146.0,810.0 1152.0,813.0 1160.0,821.0 1168.0,830.0 1175.0,836.4 1180.0,833.0 1188.0,822.0 1196.0,808.0 1204.0,797.0 1211.0,791.6 1217.0,790.4 1224.0,794.0 1230.0,802.0 1236.0,814.0 1242.0,820.0 1249.0,822.0 1256.0,821.0 1264.0,817.0 1271.0,815.0 1278.0,810.0 1284.0,811.0 1290.0,821.0 1297.0,830.0 1304.0,837.0 1311.0,843.0 1318.0,848.0 1325.0,850.4 1335.0,850.4 1342.0,847.0 1349.0,840.0 1356.0,837.0 1365.0,834.0 1371.0,832.0 1377.0,835.0 1383.0,839.0 1389.0,835.0 1397.0,827.0 1405.0,818.0 1410.0,814.0 1415.0,813.0 1423.0,817.0 1431.0,826.0 1437.4,831.6 1443.0,827.0 1446.0,825.0" fill="none" stroke="#f4f400" stroke-width="1.2" stroke-linejoin="round" />
<polyline points="3.6,812.0 9.0,798.0 16.0,787.0 21.0,796.0 28.0,811.0 32.0,825.0 38.0,834.0 45.0,848.0 50.0,853.0 56.0,852.0 65.0,856.4 70.0,850.0 77.0,842.0 83.0,840.0 88.0,842.0 94.0,850.0 100.0,842.0 108.0,850.0 114.0,853.0 120.0,856.4 128.0,854.4 133.6,859.6 140.0,854.0 148.0,848.0 156.0,847.6 161.0,844.0 166.0,824.0 172.0,810.0 178.6,796.0 184.0,803.0 190.0,818.0 195.0,825.0 200.0,810.0 205.0,805.0 211.0,807.0 216.0,796.0 221.0,786.0 227.0,781.0 234.0,775.6 239.0,780.0 243.0,790.0 250.0,791.0 256.0,787.0 261.0,784.0 267.0,783.6 272.0,796.0 278.0,812.0 284.0,828.0 292.0,842.0 298.0,848.0 305.0,854.0 311.0,857.6 317.0,853.0 322.0,855.0 328.0,842.0 334.0,830.0 340.0,818.0 345.0,809.0 350.0,810.0 355.0,818.0 360.0,832.0 366.0,837.0 372.0,832.0 377.0,835.0 383.0,832.0 389.0,830.0 395.0,812.0 400.0,799.0 406.0,793.6 411.0,796.0 414.0,806.0 417.0,819.0 423.0,823.0 428.0,821.0 434.0,832.0 440.0,840.0 446.0,845.0 451.0,851.0 457.0,854.0 462.0,856.4 467.0,852.0 473.0,856.4 479.0,859.6 483.0,852.0 489.0,840.0 495.0,830.0 500.0,812.0 506.0,800.0 511.0,790.4 517.0,793.0 523.0,790.4 527.0,802.0 533.0,825.0 539.0,836.0 545.0,845.6 551.0,847.0 556.0,851.0 562.0,855.0 568.0,853.0 573.0,858.0 578.0,848.0 583.0,830.0 588.0,816.0 594.0,808.0 600.0,805.0 606.0,806.0 612.0,811.0 618.0,811.0 624.0,809.0 629.0,805.0 634.0,793.0 639.0,788.0 645.0,783.0 650.0,781.0 656.0,783.0 662.0,787.6 667.0,780.0 673.0,776.4 679.0,778.0 685.0,772.0 690.0,772.0 695.0,776.0 700.0,792.0 706.0,802.0 712.0,814.0 718.0,830.0 724.0,840.0 729.0,843.0 735.0,838.0 741.0,841.0 746.0,836.0 751.0,812.0 757.0,796.0 763.0,789.0 768.0,798.0 774.0,806.0 780.0,819.0 786.0,821.0 791.0,822.0 796.0,826.0 802.0,838.0 808.0,844.0 814.0,849.0 819.0,854.0 829.0,854.0 835.0,849.0 841.0,845.0 846.0,846.4 852.0,850.0 858.0,851.0 863.0,855.0 869.0,857.0 874.0,840.0 880.0,820.0 886.0,808.0 892.0,802.0 901.0,798.0 907.0,801.0 913.0,795.0 919.0,792.0 924.0,806.0 930.0,804.0 936.0,798.0 941.0,810.0 946.0,819.0 952.0,814.0 957.0,810.0 963.0,814.0 969.0,824.0 974.0,836.0 979.6,843.6 983.0,828.0 988.0,810.0 994.0,794.0 1000.0,782.0 1007.0,776.0 1014.0,773.0 1019.0,769.6 1025.0,771.0 1031.0,771.6 1036.0,774.0 1042.0,770.0 1048.0,768.4 1054.0,772.0 1059.0,777.0 1064.0,780.0 1070.0,776.0 1076.0,773.0 1082.0,769.0 1088.0,768.0 1092.0,770.0 1097.0,776.0 1103.0,771.0 1109.0,771.0 1113.0,776.0 1118.0,796.0 1124.0,811.0 1131.0,813.0 1137.0,815.0 1142.0,819.0 1146.0,817.6 1152.0,820.0 1158.0,829.0 1163.0,838.0 1169.0,842.0 1174.4,848.0 1179.0,830.0 1185.0,810.0 1191.0,798.0 1197.0,786.0 1202.4,780.0 1209.0,784.4 1215.0,787.6 1220.0,796.0 1226.0,808.0 1231.0,824.0 1235.6,837.0 1242.0,832.0 1248.0,827.0 1254.0,821.0 1260.0,813.0 1266.0,811.0 1271.0,812.0 1275.6,799.0 1280.0,807.0 1285.0,820.0 1291.0,834.0 1297.0,842.0 1303.0,849.0 1309.0,850.0 1315.0,854.0 1320.0,858.0 1326.0,851.0 1332.0,850.0 1337.0,848.0 1343.0,838.0 1348.6,826.0 1354.0,831.0 1359.4,834.0 1365.0,828.0 1370.0,826.0 1375.0,840.0 1381.0,846.0 1387.0,832.0 1392.0,821.0 1398.0,815.0 1403.0,809.0 1408.4,803.6 1415.0,811.0 1420.0,820.0 1426.0,830.0 1431.0,839.6 1437.0,841.6 1441.0,828.0 1444.0,817.0 1447.4,813.0" fill="none" stroke="#e0e0e0" stroke-width="1.1" stroke-linejoin="round" />
<rect x="2" y="43.95" width="1466" height="1.7" fill="#0000e6"/>
<rect x="2" y="138.45" width="1466" height="1.7" fill="#0000e6"/>
<rect x="2" y="198.55" width="1466" height="1.7" fill="#0000e6"/>
<rect x="2" y="291.45" width="1466" height="1.7" fill="#0000e6"/>
<rect x="2" y="353.05" width="1466" height="1.7" fill="#0000e6"/>
<rect x="2" y="537.5" width="1483" height="1.8" fill="#c00000"/>
<rect x="2" y="713.3" width="1467" height="2" fill="#a40000"/>
<rect x="1467.4" y="10" width="1.9" height="704" fill="#b00000"/>
<rect x="1467.3" y="713" width="3.7" height="177" fill="#c40000"/>
<rect x="1467.3" y="713" width="18" height="2.8" fill="#c40000"/>
<rect x="1468" y="690.9" width="17" height="1.5" fill="#b00000"/>
<rect x="1483.8" y="698.4" width="1.2" height="1.4" fill="#e03030"/>
<rect x="1469" y="92.0" width="7.5" height="1.5" fill="#b00000"/>
<rect x="1469" y="160.2" width="7.5" height="1.5" fill="#b00000"/>
<rect x="1469" y="228.4" width="7.5" height="1.5" fill="#b00000"/>
<rect x="1469" y="296.3" width="7.5" height="1.5" fill="#b00000"/>
<rect x="1469" y="363.9" width="7.5" height="1.5" fill="#b00000"/>
<rect x="1469" y="432.5" width="7.5" height="1.5" fill="#b00000"/>
<rect x="1469" y="500.2" width="7.5" height="1.5" fill="#b00000"/>
<rect x="1469" y="126.6" width="4" height="1.5" fill="#b00000"/>
<rect x="1469" y="194.8" width="4" height="1.5" fill="#b00000"/>
<rect x="1469" y="263.0" width="4" height="1.5" fill="#b00000"/>
<rect x="1469" y="330.5" width="4" height="1.5" fill="#b00000"/>
<rect x="1469" y="398.3" width="4" height="1.5" fill="#b00000"/>
<rect x="1469" y="466.3" width="4" height="1.5" fill="#b00000"/>
<rect x="1469" y="588.9" width="7.5" height="1.5" fill="#b00000"/>
<rect x="1469" y="629.1" width="7.5" height="1.5" fill="#b00000"/>
<rect x="1469" y="669.6" width="7.5" height="1.5" fill="#b00000"/>
<rect x="1469" y="609.9" width="4" height="1.5" fill="#b00000"/>
<rect x="1469" y="650.3" width="4" height="1.5" fill="#b00000"/>
<path d="M1435.1 17.6 L1443.2 25.6 L1435.1 33.6 L1427 25.6 Z" fill="none" stroke="#c00000" stroke-width="1.3"/>
<rect x="1450" y="17.9" width="14.2" height="15.4" fill="none" stroke="#c00000" stroke-width="1.4"/>
<rect x="1458.8" y="17.9" width="1.4" height="15.4" fill="#c00000"/>
<rect x="0" y="0" width="2.1" height="890" fill="#ebebeb"/>
<path d="M2 449 L15 465.5 L15 509.7 L2 530 Z" fill="#3c3c3c" fill-opacity="0.88" stroke="#6a6a6a" stroke-width="1"/>
<path d="M3.6 480.8 L11 487.6 L3.6 494.4 Z" fill="#e8a000"/>
<rect x="0" y="0" width="1485" height="11.6" fill="url(#tg)"/>
<rect x="3.2" y="0" width="24.3" height="1.6" fill="#fafafa"/>
<line x1="42" y1="0.6" x2="77" y2="0.6" stroke="#8a8a8a" stroke-width="1.1" stroke-dasharray="3 2.5" stroke-opacity="0.7"/>
<line x1="110" y1="0.6" x2="141" y2="0.6" stroke="#8a8a8a" stroke-width="1.1" stroke-dasharray="3 2.5" stroke-opacity="0.7"/>
<line x1="173" y1="0.6" x2="205" y2="0.6" stroke="#8a8a8a" stroke-width="1.1" stroke-dasharray="3 2.5" stroke-opacity="0.7"/>
<line x1="238" y1="0.6" x2="270" y2="0.6" stroke="#8a8a8a" stroke-width="1.1" stroke-dasharray="3 2.5" stroke-opacity="0.7"/>
<line x1="292" y1="0.6" x2="362" y2="0.6" stroke="#8a8a8a" stroke-width="1.1" stroke-dasharray="3 2.5" stroke-opacity="0.7"/>
<line x1="378" y1="0.6" x2="408" y2="0.6" stroke="#8a8a8a" stroke-width="1.1" stroke-dasharray="3 2.5" stroke-opacity="0.7"/>
<line x1="447" y1="0.6" x2="492" y2="0.6" stroke="#8a8a8a" stroke-width="1.1" stroke-dasharray="3 2.5" stroke-opacity="0.7"/>
<line x1="512" y1="0.6" x2="538" y2="0.6" stroke="#8a8a8a" stroke-width="1.1" stroke-dasharray="3 2.5" stroke-opacity="0.7"/>
<line x1="380" y1="0.6" x2="421" y2="0.6" stroke="#8a8a8a" stroke-width="1.1" stroke-dasharray="3 2.5" stroke-opacity="0.7"/>
<line x1="450" y1="0.6" x2="482" y2="0.6" stroke="#8a8a8a" stroke-width="1.1" stroke-dasharray="3 2.5" stroke-opacity="0.7"/>
<line x1="522" y1="0.6" x2="549" y2="0.6" stroke="#8a8a8a" stroke-width="1.1" stroke-dasharray="3 2.5" stroke-opacity="0.7"/>
<rect x="581" y="0" width="56.5" height="7.7" fill="#e2e2e2" stroke="#f0f0f0" stroke-width="0.8"/>
<rect x="648" y="0" width="57.5" height="7.7" fill="#e2e2e2" stroke="#f0f0f0" stroke-width="0.8"/>
<rect x="637.9" y="0" width="9.7" height="7.7" fill="#c4c4c4"/>
<line x1="590" y1="0.5" x2="627" y2="0.5" stroke="#e04040" stroke-width="1.2" stroke-dasharray="3 2.5"/>
<line x1="662" y1="0.5" x2="695" y2="0.5" stroke="#e04040" stroke-width="1.2" stroke-dasharray="3 2.5"/>
<line x1="993" y1="0.7" x2="1107" y2="0.7" stroke="#404040" stroke-width="1.5" stroke-dasharray="4 2"/>
<line x1="1135.5" y1="0.7" x2="1203.4" y2="0.7" stroke="#404040" stroke-width="1.5" stroke-dasharray="4 2"/>
<rect x="91.8" y="0" width="1" height="7.5" fill="#dfdfdf"/>
<rect x="157.4" y="0" width="1" height="7.5" fill="#dfdfdf"/>
<rect x="221.4" y="0" width="1" height="7.5" fill="#dfdfdf"/>
<rect x="285.6" y="0" width="1" height="7.5" fill="#dfdfdf"/>
<rect x="2.1" y="0" width="0.6" height="9" fill="#a8a8a8"/>
</svg>
</body></html>
